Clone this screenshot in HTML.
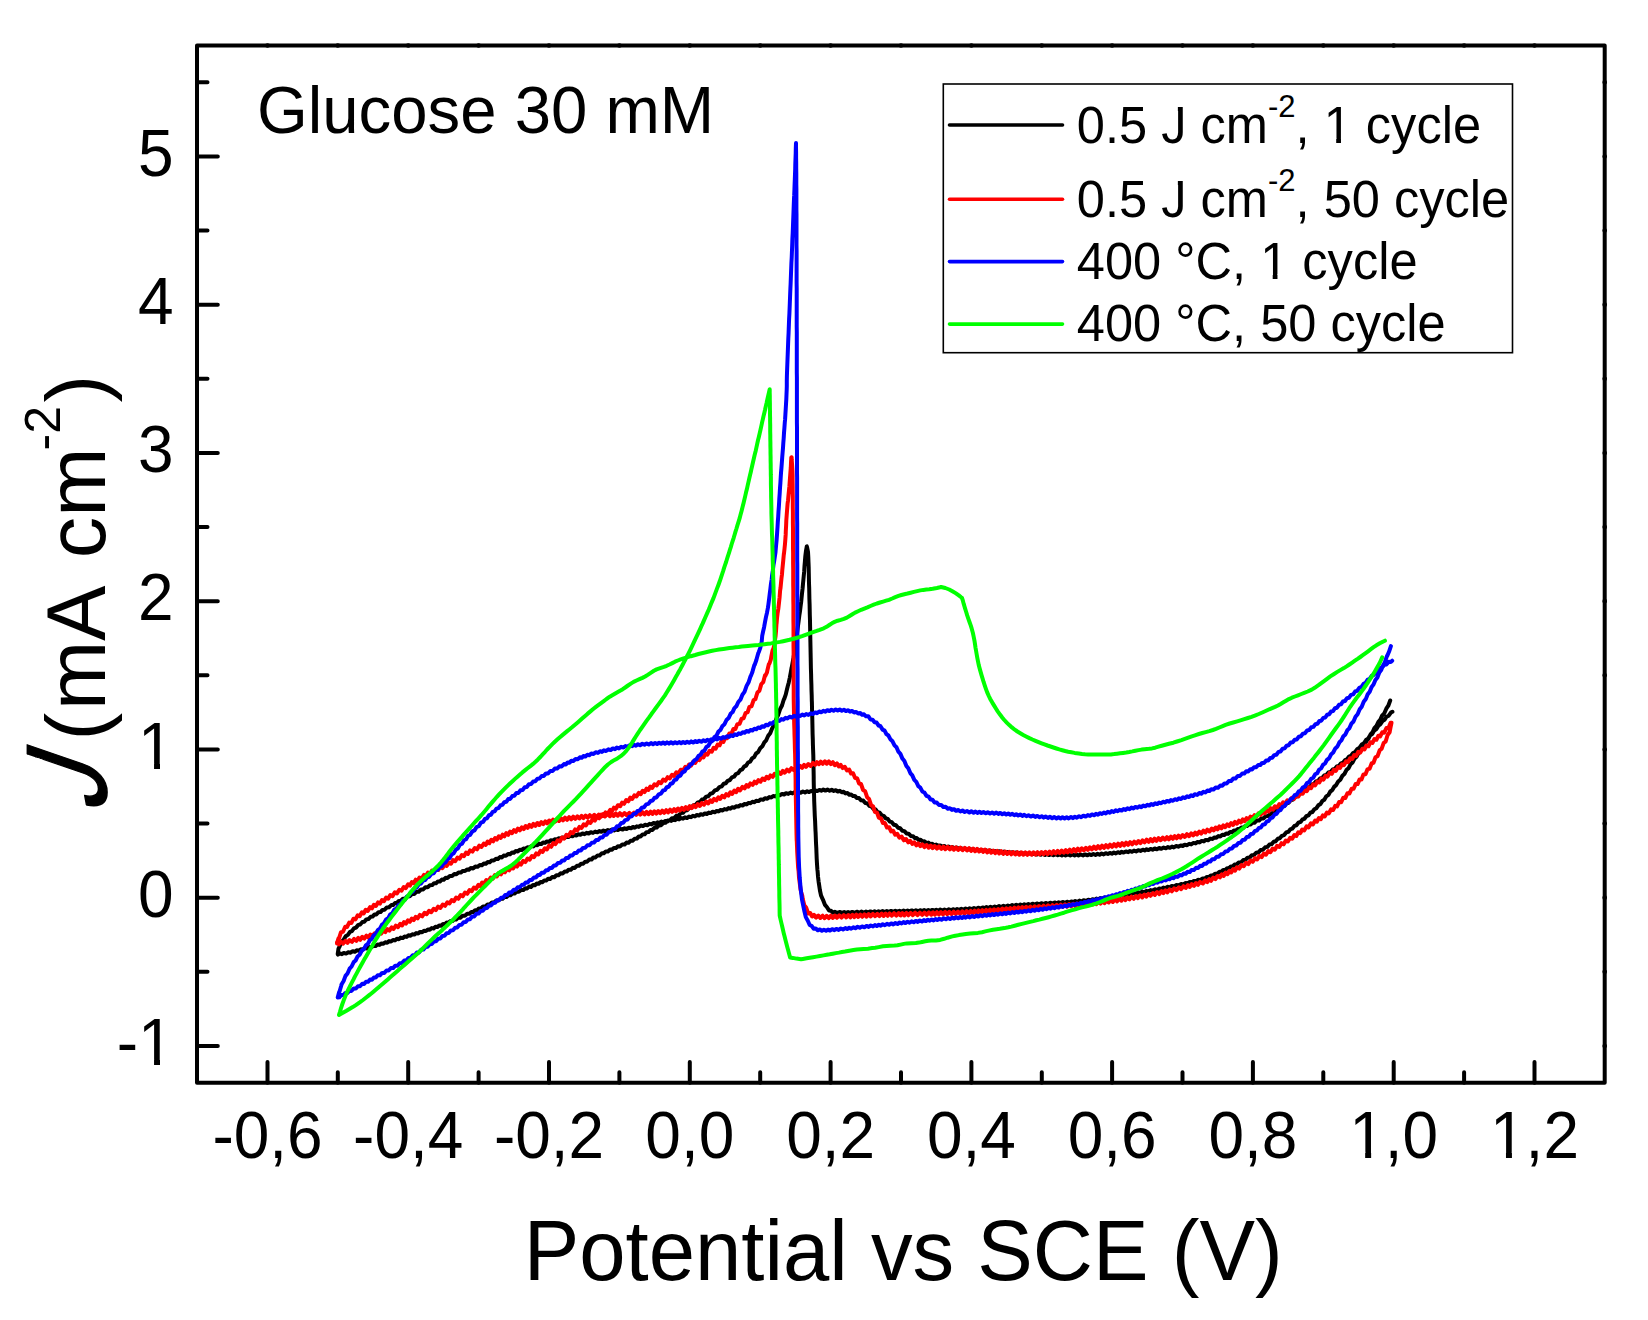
<!DOCTYPE html>
<html lang="en"><head><meta charset="utf-8"><title>Cyclic voltammetry - Glucose 30 mM</title>
<style>html,body{margin:0;padding:0;background:#fff}svg{display:block}</style></head>
<body>
<svg width="1648" height="1320" viewBox="0 0 1648 1320">
<rect width="1648" height="1320" fill="#fff"/>
<g fill="none" stroke-width="4.0" stroke-linecap="round" stroke-linejoin="round">
<path stroke="#000000" d="M1390.2 700.5L1388.3 705.7L1386.3 708.7L1384.3 713.3L1382.1 715.7L1380.2 719.8L1378.4 721.8L1376.5 725.8L1374.4 728.1L1372.4 732.5L1370.5 734.5L1368.4 738.9L1366.5 740.9L1364.5 745.0L1362.6 746.9L1360.6 750.9L1358.6 752.8L1356.5 756.7L1354.5 758.6L1352.5 762.5L1350.5 764.4L1348.5 768.3L1346.4 770.1L1344.4 774.0L1342.4 775.8L1340.3 779.7L1338.2 781.5L1336.0 785.3L1334.2 786.7L1332.3 790.1L1330.3 791.5L1328.4 794.9L1326.3 796.3L1324.3 799.7L1322.4 800.9L1320.5 804.0L1318.3 805.3L1316.4 808.2L1314.4 809.2L1312.4 812.0L1310.4 812.7L1308.5 815.4L1306.3 816.2L1304.4 818.8L1302.5 819.4L1300.7 821.9L1298.4 822.7L1296.4 825.3L1294.4 825.9L1292.2 828.7L1290.2 829.3L1288.4 831.8L1286.2 832.4L1284.1 835.1L1281.9 835.8L1279.8 838.3L1277.8 838.8L1275.7 841.2L1273.7 841.7L1271.6 844.1L1269.5 844.5L1267.4 846.9L1265.2 847.3L1262.9 849.7L1260.7 850.0L1258.5 852.3L1256.3 852.7L1254.1 854.9L1251.9 855.2L1249.7 857.5L1247.5 857.7L1245.4 859.9L1243.2 860.1L1241.0 862.3L1238.7 862.5L1236.4 864.7L1234.5 864.6L1232.7 866.5L1230.8 866.5L1228.9 868.4L1227.1 868.2L1225.1 870.1L1223.2 870.0L1221.3 871.9L1219.5 871.7L1217.2 873.7L1215.0 873.7L1212.8 875.6L1210.8 875.4L1208.9 877.1L1207.0 876.9L1204.8 878.6L1202.7 878.4L1200.0 880.2L1198.0 879.8L1196.0 881.4L1193.9 880.9L1191.7 882.5L1189.8 881.9L1187.8 883.4L1185.7 882.9L1183.5 884.4L1181.2 883.9L1178.9 885.4L1176.5 884.9L1174.1 886.4L1171.8 885.9L1169.6 887.4L1167.4 886.8L1165.4 888.2L1163.4 887.6L1161.5 889.0L1159.3 888.5L1157.2 889.9L1154.8 889.3L1153.0 890.7L1150.6 890.1L1148.4 891.5L1146.4 890.9L1144.5 892.2L1142.2 891.6L1140.0 893.0L1137.9 892.3L1135.9 893.7L1133.7 893.0L1131.4 894.4L1129.5 893.7L1127.5 895.0L1125.4 894.3L1123.3 895.7L1121.3 895.0L1119.2 896.3L1117.1 895.6L1115.0 896.9L1112.9 896.2L1110.8 897.5L1108.7 896.9L1106.7 898.2L1104.7 897.4L1102.7 898.7L1100.5 898.1L1098.4 899.3L1096.4 898.6L1094.5 899.9L1092.5 899.2L1090.3 900.4L1088.3 899.7L1086.1 900.9L1083.6 900.2L1081.6 901.4L1079.4 900.6L1077.2 901.9L1075.2 901.0L1073.3 902.2L1071.3 901.4L1069.2 902.5L1067.1 901.7L1065.0 902.8L1062.7 902.0L1060.7 903.1L1058.7 902.2L1056.7 903.3L1054.6 902.4L1052.4 903.6L1050.2 902.7L1048.0 903.8L1045.7 903.0L1043.5 904.1L1041.3 903.2L1039.1 904.3L1036.9 903.5L1034.7 904.6L1032.5 903.7L1030.4 904.9L1028.4 904.0L1026.3 905.1L1024.3 904.3L1022.4 905.4L1020.4 904.5L1018.4 905.7L1016.3 904.8L1014.3 906.0L1012.2 905.1L1010.0 906.3L1007.9 905.5L1005.7 906.6L1003.5 905.8L1001.3 907.0L999.1 906.1L996.9 907.3L994.8 906.5L992.6 907.6L990.5 906.8L988.5 907.9L986.5 907.1L984.5 908.2L982.6 907.4L980.4 908.6L978.2 907.7L976.1 908.9L974.0 908.0L971.9 909.1L969.6 908.3L967.6 909.4L965.6 908.5L963.7 909.6L961.4 908.8L959.2 909.9L957.1 909.0L955.3 910.1L953.0 909.2L950.9 910.2L948.8 909.3L946.7 910.4L944.5 909.5L942.2 910.6L940.2 909.6L938.2 910.7L936.3 909.7L934.3 910.8L932.4 909.9L930.4 910.9L928.3 910.0L926.3 911.0L924.2 910.1L922.2 911.1L920.1 910.2L918.0 911.2L915.9 910.3L913.8 911.3L911.8 910.4L909.7 911.4L907.6 910.5L905.6 911.5L903.6 910.6L901.5 911.6L899.5 910.7L897.4 911.7L895.3 910.8L893.2 911.8L891.1 910.9L888.9 911.9L886.8 911.0L884.7 912.0L882.6 911.1L880.5 912.1L878.5 911.2L876.5 912.2L874.6 911.3L872.7 912.3L870.4 911.4L868.3 912.4L866.0 911.5L863.8 912.5L861.5 911.6L859.1 912.7L856.8 911.7L854.6 912.8L852.3 911.9L850.2 912.9L848.1 912.0L846.1 913.0L844.2 912.0L842.1 913.1L840.1 912.0L837.3 913.0L834.8 911.8L832.8 912.6L830.9 910.7L829.0 910.4L827.0 907.2L825.0 904.9L823.0 899.8L821.1 895.7L819.9 890.3L819.3 886.1L818.6 881.6L818.0 876.5L817.6 871.1L817.4 869.7L817.0 864.0L816.7 858.6L816.5 853.5L816.3 848.2L816.0 842.8L815.8 837.4L815.6 832.3L815.5 830.8L815.3 826.2L815.1 821.2L814.8 816.1L814.6 811.1L814.4 806.0L814.2 801.0L814.1 795.9L813.9 790.7L813.8 785.3L813.7 779.9L813.7 776.6L813.6 770.9L813.5 765.6L813.4 760.4L813.3 755.1L813.1 749.9L812.9 744.5L812.8 739.4L812.6 734.2L812.5 728.8L812.4 723.6L812.3 718.2L812.1 712.7L812.0 707.4L811.9 702.3L811.8 700.3L811.7 695.4L811.5 690.1L811.4 684.7L811.2 679.2L811.1 674.0L810.9 668.5L810.8 663.2L810.7 657.8L810.6 652.7L810.5 647.5L810.4 642.3L810.3 637.1L810.2 632.0L810.1 626.6L810.0 621.3L810.0 620.7L809.8 614.7L809.7 609.4L809.6 604.3L809.4 598.8L809.3 593.5L809.2 588.3L809.0 583.3L808.9 578.1L808.8 573.0L808.7 567.5L808.5 562.4L808.3 557.1L808.0 551.9L807.1 547.3L806.8 546.4L806.8 546.4L805.9 551.4L805.3 556.5L804.9 561.5L804.5 566.2L804.2 571.2L803.7 576.4L803.2 581.6L803.1 582.6L802.6 588.2L802.0 593.4L801.5 598.6L801.2 601.7L800.6 606.2L800.0 611.2L799.3 615.7L798.6 621.2L797.9 626.6L797.4 630.5L796.8 635.0L796.1 640.3L795.5 644.1L794.8 650.0L793.9 655.4L793.6 657.4L792.7 662.1L791.8 667.1L791.7 667.1L790.7 672.9L789.7 678.1L788.7 682.7L787.8 686.0L786.4 691.7L785.8 694.4L784.2 699.0L783.8 699.5L782.0 705.5L780.1 709.2L778.1 715.2L776.2 719.1L774.3 724.7L772.2 728.2L770.2 733.2L768.2 735.8L766.2 740.3L764.3 742.3L762.3 746.3L760.2 748.2L758.1 752.1L756.1 753.5L754.2 757.0L752.1 758.4L750.1 761.7L748.1 762.5L746.1 765.6L744.1 766.6L742.2 769.4L740.3 770.2L738.2 773.1L736.0 774.0L734.0 776.7L731.9 777.4L729.9 780.0L727.7 780.8L725.8 783.3L723.7 783.8L721.6 786.4L719.4 787.1L717.1 789.8L714.8 790.4L712.6 793.1L710.4 793.7L708.3 796.2L706.2 796.6L704.1 799.1L702.0 799.5L699.9 802.0L697.8 802.4L695.7 804.8L693.6 805.2L691.4 807.5L689.3 807.9L687.2 810.2L685.1 810.5L683.0 812.8L680.9 813.1L678.7 815.4L676.5 815.7L674.3 817.9L672.0 818.2L669.8 820.4L667.6 820.6L665.4 822.8L663.2 823.0L661.1 825.2L658.9 825.4L656.7 827.6L654.5 827.8L652.2 830.0L650.4 830.0L648.5 832.1L646.5 832.2L644.6 834.3L642.6 834.4L640.7 836.4L638.8 836.5L636.9 838.5L634.7 838.7L632.5 840.8L630.5 840.8L628.5 842.8L626.5 842.6L624.6 844.5L622.2 844.5L620.0 846.4L617.9 846.3L616.0 848.0L613.9 847.9L612.1 849.7L610.1 849.5L607.9 851.5L605.8 851.4L603.8 853.3L601.9 853.3L599.6 855.4L597.6 855.4L595.5 857.4L593.4 857.5L591.5 859.5L589.2 859.6L587.1 861.7L585.2 861.7L583.2 863.7L581.1 863.8L579.0 865.8L576.9 865.8L574.8 867.9L572.9 867.8L570.8 869.7L568.6 869.7L566.8 871.6L564.8 871.5L562.8 873.4L560.7 873.3L558.5 875.3L556.4 875.2L554.3 877.2L552.1 877.1L550.1 879.0L548.1 878.8L546.2 880.6L544.3 880.4L542.5 882.2L540.6 882.0L538.7 883.8L536.8 883.5L534.9 885.3L533.0 885.1L531.0 886.9L529.1 886.6L527.2 888.4L525.3 888.2L523.4 889.9L521.2 889.9L518.9 891.8L516.7 891.7L514.6 893.6L512.4 893.5L510.5 895.3L508.4 895.2L506.5 897.0L504.5 896.9L502.6 898.7L500.8 898.6L498.5 900.6L496.3 900.6L494.1 902.5L491.9 902.5L489.8 904.5L487.5 904.5L485.3 906.6L483.0 906.6L480.7 908.7L478.8 908.5L477.0 910.3L475.1 910.2L473.2 912.0L471.4 911.9L469.5 913.7L467.2 913.7L464.9 915.7L462.6 915.7L460.3 917.8L458.0 917.7L456.1 919.5L454.3 919.3L452.4 921.1L450.5 920.9L448.6 922.7L446.7 922.5L444.9 924.2L443.0 924.0L441.1 925.7L439.2 925.4L437.4 927.1L435.5 926.8L433.6 928.5L431.8 928.1L429.8 929.8L427.9 929.4L425.9 931.1L424.0 930.7L422.1 932.3L420.1 931.9L418.2 933.5L416.2 933.1L414.3 934.6L412.4 934.2L410.5 935.8L408.5 935.3L406.6 936.9L404.6 936.5L402.7 938.1L400.7 937.6L398.8 939.2L396.9 938.8L394.9 940.4L393.0 940.0L391.1 941.5L389.1 941.1L387.2 942.7L385.3 942.2L383.4 943.8L381.5 943.4L379.5 944.9L377.6 944.5L375.5 946.1L373.4 945.7L371.3 947.3L369.1 946.9L367.0 948.5L364.9 948.1L362.8 949.6L360.8 949.2L358.9 950.7L356.7 950.3L354.7 951.8L352.8 951.2L350.6 952.7L348.3 952.2L346.1 953.6L343.8 952.9L341.9 954.2L339.8 953.4L338.0 954.6L337.7 954.1L337.7 954.1L338.5 948.6L339.7 946.3L341.6 941.7L343.6 939.8L345.7 936.2L347.9 934.9L350.0 931.9L351.9 931.2L353.9 928.4L356.0 927.6L358.3 924.9L360.2 924.5L362.4 922.0L364.3 921.7L366.3 919.4L368.4 919.1L370.6 916.8L372.5 916.6L374.5 914.5L376.4 914.4L378.5 912.2L380.5 912.1L382.5 909.9L384.6 909.7L386.8 907.5L389.0 907.3L391.3 905.1L393.1 905.1L395.0 903.0L396.9 903.0L398.8 901.0L400.6 901.0L402.9 898.8L405.2 898.6L407.5 896.4L409.7 896.2L412.0 894.1L414.2 893.9L416.5 891.8L418.7 891.7L421.0 889.5L423.2 889.4L425.4 887.3L427.7 887.2L429.9 885.2L432.2 885.1L434.1 883.2L436.0 883.3L437.9 881.4L439.9 881.5L441.8 879.6L443.7 879.7L445.7 877.8L447.5 878.0L449.8 876.0L452.1 876.0L454.3 874.1L456.4 874.3L458.5 872.5L460.7 872.6L462.9 870.9L465.0 871.1L467.0 869.4L468.9 869.8L470.8 868.1L473.1 868.4L475.3 866.6L477.5 866.8L479.8 865.0L481.9 865.3L483.9 863.5L485.9 863.8L487.8 862.0L489.7 862.2L491.6 860.5L493.8 860.6L496.0 858.7L497.9 859.0L499.9 857.1L501.9 857.4L503.7 855.6L506.0 855.7L508.3 853.9L510.1 854.2L512.0 852.5L513.9 852.8L515.8 851.1L517.8 851.4L519.7 849.8L521.6 850.1L523.5 848.5L525.5 848.9L527.5 847.3L529.4 847.6L531.4 846.0L533.4 846.4L535.4 844.8L537.3 845.2L539.2 843.6L541.2 844.1L543.1 842.5L545.0 842.9L546.9 841.4L548.8 841.9L550.7 840.3L552.7 840.8L554.7 839.3L556.6 839.8L558.6 838.3L560.5 838.8L562.5 837.4L564.5 837.9L566.5 836.5L568.4 837.1L570.4 835.7L572.4 836.3L574.4 834.9L576.3 835.5L578.4 834.2L580.4 834.8L582.5 833.5L584.5 834.2L586.6 832.8L588.7 833.5L590.8 832.2L593.0 832.9L595.2 831.6L597.4 832.3L599.5 831.0L601.4 831.8L603.5 830.5L605.6 831.3L607.9 830.0L609.9 830.8L612.0 829.6L614.1 830.4L616.0 829.3L618.0 830.0L620.3 828.8L622.7 829.5L624.6 828.3L626.6 829.0L628.8 827.7L631.0 828.3L632.9 827.0L634.8 827.7L636.8 826.3L638.8 826.9L640.9 825.5L643.0 826.1L645.2 824.7L647.3 825.3L649.5 823.8L651.5 824.4L653.6 823.0L655.5 823.7L657.5 822.3L659.5 823.0L661.4 821.6L663.4 822.3L665.3 820.9L667.3 821.6L669.2 820.2L671.2 820.9L673.2 819.5L675.1 820.2L677.1 818.8L679.1 819.4L681.1 818.1L683.0 818.7L685.0 817.3L687.0 818.0L689.0 816.6L691.0 817.2L692.9 815.8L694.9 816.4L696.9 815.0L698.9 815.6L700.8 814.2L702.8 814.8L704.8 813.4L706.8 814.0L708.8 812.6L710.7 813.1L712.7 811.7L714.7 812.3L716.7 810.9L718.6 811.4L720.6 810.0L722.6 810.5L724.5 809.1L726.5 809.6L728.5 808.1L730.4 808.7L732.4 807.2L734.4 807.7L736.4 806.2L738.4 806.6L740.4 805.1L742.5 805.5L744.6 804.0L746.6 804.4L748.6 802.9L750.5 803.3L752.4 801.8L754.4 802.2L756.2 800.7L758.5 801.1L760.8 799.4L763.0 799.8L765.2 798.2L767.3 798.7L769.3 797.1L771.3 797.5L773.2 796.0L775.5 796.4L777.7 794.9L779.8 795.4L782.0 793.9L784.1 794.5L786.0 793.2L788.3 793.9L790.5 792.6L792.5 793.4L794.5 792.2L796.5 793.0L798.6 791.8L800.7 792.7L802.9 791.5L805.0 792.4L807.1 791.2L809.1 792.1L811.1 790.9L813.3 791.6L815.3 790.4L817.3 791.1L819.3 789.9L821.3 790.7L823.3 789.6L825.4 790.6L827.5 789.6L829.6 790.7L831.7 789.8L833.8 791.0L835.8 790.2L837.8 791.5L839.8 790.8L841.7 792.3L843.6 791.8L845.5 793.4L847.4 793.0L849.3 794.7L851.1 794.4L853.0 796.1L854.9 796.0L856.7 797.9L859.0 798.1L861.1 800.3L863.2 800.6L865.3 803.0L867.4 803.4L869.5 805.9L871.4 806.5L873.5 809.0L875.6 809.5L877.6 812.1L879.7 812.7L881.7 815.3L883.7 815.9L885.8 818.4L887.8 819.0L889.8 821.6L891.8 822.2L893.9 824.8L896.0 825.3L898.1 827.8L900.2 828.2L902.3 830.7L904.4 831.1L906.5 833.4L908.6 833.7L910.8 835.9L913.0 836.2L914.9 838.2L916.8 838.1L918.7 840.0L920.6 839.8L922.5 841.6L924.4 841.3L926.4 843.0L928.4 842.6L930.3 844.2L932.3 843.7L934.2 845.2L936.2 844.6L938.2 846.0L940.2 845.4L942.1 846.7L944.3 846.0L946.3 847.3L948.3 846.5L950.2 847.8L952.2 847.0L954.5 848.3L956.6 847.5L958.9 848.8L960.8 848.0L962.9 849.2L965.1 848.4L967.4 849.6L969.7 848.8L971.6 850.0L973.6 849.2L975.6 850.4L977.7 849.5L979.9 850.7L982.1 849.9L984.1 851.0L986.1 850.2L988.2 851.4L990.3 850.5L992.5 851.7L994.8 850.9L997.1 852.1L999.4 851.2L1001.7 852.4L1004.0 851.6L1006.2 852.7L1008.4 851.9L1010.5 853.0L1012.5 852.2L1014.5 853.3L1016.4 852.4L1018.3 853.6L1020.6 852.7L1022.8 853.8L1024.9 853.0L1027.3 854.1L1029.6 853.2L1032.0 854.3L1034.3 853.5L1036.6 854.6L1038.8 853.7L1040.9 854.8L1043.0 853.8L1045.1 854.9L1047.0 854.0L1048.9 855.1L1051.2 854.1L1053.4 855.2L1055.5 854.3L1057.7 855.3L1059.7 854.4L1061.9 855.4L1063.7 854.5L1065.6 855.5L1068.0 854.5L1070.3 855.5L1072.5 854.5L1074.6 855.5L1076.6 854.5L1078.5 855.5L1080.7 854.5L1083.0 855.4L1085.2 854.4L1087.5 855.3L1089.4 854.2L1091.4 855.1L1093.4 854.0L1095.5 854.9L1097.5 853.8L1099.6 854.7L1101.6 853.5L1103.7 854.4L1105.7 853.2L1107.8 854.0L1109.8 852.9L1111.9 853.7L1113.9 852.5L1115.9 853.4L1117.9 852.2L1119.8 853.0L1121.7 851.8L1123.6 852.6L1125.9 851.4L1128.2 852.2L1130.0 851.0L1132.0 851.8L1134.0 850.6L1136.1 851.4L1138.2 850.2L1140.5 850.9L1142.8 849.7L1144.7 850.5L1146.6 849.3L1148.5 850.1L1150.5 848.9L1152.6 849.7L1154.7 848.5L1156.9 849.3L1159.2 848.0L1161.4 848.8L1163.7 847.6L1165.9 848.3L1168.0 847.1L1170.0 847.8L1172.0 846.6L1173.9 847.4L1176.2 846.0L1178.3 846.7L1180.7 845.4L1182.7 846.0L1184.7 844.7L1187.1 845.2L1189.2 843.8L1191.2 844.4L1193.5 842.9L1195.6 843.4L1197.6 841.9L1199.6 842.4L1201.7 840.9L1203.8 841.4L1205.7 839.9L1208.0 840.3L1210.2 838.6L1212.5 839.0L1214.5 837.4L1216.4 837.8L1218.4 836.1L1220.3 836.5L1222.3 834.8L1224.3 835.1L1226.2 833.4L1228.2 833.7L1230.1 832.0L1232.0 832.3L1233.9 830.6L1235.8 830.8L1237.6 829.1L1239.5 829.3L1241.4 827.5L1243.3 827.7L1245.2 825.9L1247.0 826.1L1248.9 824.3L1250.8 824.4L1252.7 822.6L1254.5 822.7L1256.8 820.6L1259.1 820.5L1261.0 818.6L1263.3 818.4L1265.6 816.3L1267.8 816.1L1270.2 813.8L1272.0 813.7L1273.9 811.6L1276.2 811.3L1278.2 809.0L1280.4 808.6L1282.6 806.1L1284.8 805.6L1286.7 803.2L1288.6 802.8L1290.7 800.3L1292.8 799.7L1295.0 797.0L1297.2 796.4L1299.3 793.9L1301.3 793.3L1303.4 790.7L1305.5 790.2L1307.6 787.6L1309.7 787.0L1311.8 784.5L1313.8 784.0L1315.9 781.4L1318.0 780.9L1320.0 778.4L1322.1 778.0L1324.2 775.5L1326.3 775.0L1328.4 772.5L1330.6 772.0L1332.7 769.5L1334.8 769.0L1336.8 766.4L1338.9 765.9L1341.0 763.3L1343.0 762.7L1345.0 760.1L1346.9 759.4L1348.9 756.7L1350.9 756.0L1353.1 753.0L1355.2 752.0L1357.4 748.9L1359.6 747.7L1361.7 744.5L1363.9 743.3L1366.0 740.0L1368.0 738.7L1370.1 735.4L1372.2 734.0L1374.2 730.6L1376.3 729.1L1378.4 725.6L1380.4 724.3L1382.4 721.1L1384.5 719.8L1386.6 716.7L1388.7 715.7L1390.9 712.6L1392.4 711.8"/>
<path stroke="#ff0000" d="M1391.5 722.8L1390.4 728.2L1389.6 732.3L1387.6 735.0L1385.6 741.6L1383.7 742.9L1381.6 748.9L1379.7 750.2L1377.5 756.2L1375.5 757.3L1373.5 762.8L1371.7 763.3L1369.6 768.7L1367.6 769.1L1365.5 774.3L1363.4 774.6L1361.5 779.4L1359.6 779.4L1357.6 784.1L1355.6 784.1L1353.6 788.8L1351.6 788.7L1349.5 793.4L1347.4 793.3L1345.4 797.9L1343.3 797.7L1341.1 802.3L1339.1 802.0L1337.1 806.4L1335.2 805.8L1333.2 810.0L1331.1 809.3L1328.9 813.4L1326.9 812.5L1324.7 816.5L1322.8 815.4L1320.9 819.1L1318.9 818.0L1317.0 821.7L1315.1 820.5L1312.9 824.4L1310.9 823.4L1308.5 827.4L1306.5 826.4L1304.2 830.4L1302.2 829.5L1300.3 833.2L1298.2 832.3L1296.3 836.0L1294.3 835.0L1292.2 838.8L1290.1 837.8L1287.9 841.5L1285.8 840.5L1283.7 844.3L1281.5 843.2L1279.3 847.0L1277.0 845.9L1274.8 849.7L1272.6 848.6L1270.4 852.2L1268.2 851.1L1266.0 854.7L1263.8 853.6L1261.6 857.1L1259.4 855.9L1257.2 859.5L1255.0 858.2L1252.8 861.8L1250.5 860.5L1248.3 864.1L1246.0 862.8L1243.8 866.3L1241.5 865.1L1239.2 868.6L1236.9 867.3L1235.0 870.7L1233.1 869.2L1231.2 872.5L1229.4 870.9L1227.5 874.2L1225.6 872.6L1223.7 875.9L1221.8 874.3L1219.9 877.4L1217.6 876.0L1215.4 879.2L1213.2 877.7L1211.0 880.8L1209.2 879.1L1207.2 882.1L1205.1 880.4L1202.9 883.5L1200.1 881.9L1198.0 884.9L1196.0 883.0L1194.0 885.9L1191.7 884.1L1189.8 887.0L1187.8 885.1L1185.7 888.0L1183.5 886.2L1181.2 889.1L1178.9 887.3L1176.5 890.2L1174.1 888.4L1171.8 891.3L1169.6 889.4L1167.4 892.3L1165.4 890.4L1163.4 893.2L1161.5 891.2L1159.3 894.1L1157.1 892.1L1154.8 895.0L1153.0 893.0L1150.6 895.8L1148.4 893.9L1146.4 896.6L1144.4 894.6L1142.2 897.4L1140.0 895.3L1137.9 898.1L1135.9 896.0L1133.7 898.8L1131.4 896.7L1129.5 899.4L1127.5 897.3L1125.4 900.1L1123.3 898.0L1121.3 900.7L1119.2 898.6L1117.1 901.3L1115.0 899.2L1112.8 902.0L1110.8 899.9L1108.7 902.5L1106.6 900.4L1104.6 903.1L1102.7 900.9L1100.4 903.6L1098.4 901.5L1096.4 904.1L1094.5 901.9L1092.5 904.5L1090.3 902.4L1088.3 904.9L1086.1 902.8L1083.6 905.4L1081.6 903.1L1079.5 905.7L1077.2 903.5L1075.3 906.1L1073.3 903.8L1071.3 906.4L1069.2 904.1L1067.1 906.6L1065.0 904.4L1062.7 906.9L1060.7 904.7L1058.8 907.2L1056.7 904.9L1054.6 907.4L1052.4 905.2L1050.2 907.7L1048.0 905.4L1045.7 908.0L1043.5 905.7L1041.3 908.3L1039.0 906.0L1036.8 908.5L1034.7 906.3L1032.5 908.8L1030.4 906.6L1028.3 909.1L1026.2 906.8L1024.2 909.4L1022.2 907.1L1020.3 909.7L1018.3 907.4L1016.3 909.9L1014.3 907.7L1012.3 910.2L1010.3 908.0L1008.3 910.6L1006.3 908.3L1004.3 910.9L1002.3 908.6L1000.2 911.2L998.2 909.0L996.2 911.5L994.1 909.3L992.1 911.8L990.1 909.6L988.1 912.1L986.1 909.9L984.2 912.4L982.2 910.2L980.3 912.7L978.3 910.4L976.4 913.0L974.5 910.7L972.6 913.2L970.7 910.9L968.7 913.4L966.6 911.1L964.4 913.6L962.3 911.3L960.1 913.8L958.0 911.5L955.8 914.0L953.6 911.7L951.5 914.1L949.3 911.8L947.2 914.3L945.1 911.9L943.0 914.4L940.9 912.1L938.9 914.5L936.9 912.2L935.0 914.6L933.0 912.3L931.2 914.7L928.9 912.4L926.7 914.8L924.4 912.5L922.2 914.9L919.9 912.6L917.5 915.1L915.1 912.7L912.8 915.2L910.6 912.8L908.4 915.3L906.3 912.9L904.3 915.4L902.3 913.0L900.5 915.5L898.6 913.1L896.3 915.6L894.0 913.2L891.8 915.7L889.5 913.4L887.6 915.8L885.6 913.5L883.6 915.9L881.6 913.6L879.4 916.1L877.3 913.8L875.1 916.2L872.9 913.9L870.7 916.4L868.6 914.1L866.5 916.6L864.4 914.3L862.3 916.8L860.3 914.5L858.2 917.0L856.2 914.6L854.3 917.1L852.4 914.8L850.5 917.3L848.3 915.0L846.2 917.4L843.8 915.1L841.5 917.6L839.2 915.3L837.0 917.8L834.9 915.5L832.8 918.0L830.8 915.7L828.9 918.1L826.7 915.8L824.6 918.2L822.6 915.7L820.3 918.0L818.3 915.5L816.1 917.7L813.9 914.8L812.1 916.5L810.2 913.0L808.2 913.5L806.1 907.5L804.3 905.2L802.7 898.7L802.3 895.9L801.2 892.2L800.5 889.3L799.7 882.8L799.0 877.4L798.6 871.2L798.1 867.2L797.8 862.0L797.5 856.9L797.2 851.8L797.0 846.5L796.8 841.1L796.7 840.4L796.5 833.6L796.4 828.4L796.3 823.1L796.2 817.9L796.1 812.9L796.0 807.6L795.9 802.3L795.8 796.8L795.7 791.3L795.6 785.8L795.6 780.4L795.5 775.1L795.4 770.0L795.3 764.6L795.2 759.4L795.1 753.9L794.9 748.7L794.8 744.0L794.7 739.9L794.5 734.7L794.4 729.6L794.2 724.4L794.1 719.1L794.0 714.1L793.9 708.8L793.8 703.8L793.7 698.4L793.7 693.2L793.7 687.9L793.6 682.4L793.6 677.4L793.6 672.3L793.6 667.1L793.6 662.0L793.6 656.8L793.6 651.5L793.5 646.3L793.5 641.2L793.5 636.1L793.5 631.0L793.5 625.9L793.4 620.8L793.4 615.7L793.4 610.5L793.4 605.3L793.3 600.1L793.3 595.0L793.3 589.8L793.2 584.7L793.2 579.7L793.2 574.3L793.2 568.9L793.1 563.7L793.1 558.7L793.1 553.1L793.0 548.0L793.0 543.0L793.0 537.5L793.0 534.8L793.0 528.3L792.9 523.1L792.9 517.6L792.9 512.4L792.8 507.1L792.8 501.9L792.8 496.2L792.7 491.1L792.7 485.8L792.6 480.5L792.6 475.5L792.4 470.2L792.1 464.8L791.7 459.5L791.6 457.2L791.3 457.3L791.0 462.5L790.8 467.5L790.4 472.7L790.0 478.0L789.6 483.5L789.4 486.2L789.0 490.2L788.5 495.3L788.0 500.7L787.6 503.5L787.1 509.8L786.7 515.2L786.3 520.6L786.1 525.9L785.8 531.1L785.7 534.4L785.4 538.6L785.0 543.8L784.5 548.9L783.9 554.2L783.9 553.4L783.3 560.0L782.8 565.0L782.3 570.0L782.0 574.2L781.5 578.0L781.0 583.0L780.5 588.2L780.1 590.6L779.6 597.2L779.0 602.7L778.3 609.0L777.6 613.3L777.0 618.3L776.6 623.3L776.4 624.8L776.0 631.4L775.5 636.5L774.7 641.9L774.5 644.3L773.5 648.2L772.6 650.2L771.3 656.6L770.8 659.7L769.5 663.4L768.9 664.1L767.4 670.2L767.0 672.3L765.3 675.9L765.1 675.1L763.2 682.2L761.3 684.1L759.4 690.7L757.4 692.5L755.4 699.1L753.5 700.3L751.5 706.3L749.4 706.9L747.6 712.4L745.6 712.9L743.6 718.2L741.6 718.7L739.5 723.9L737.3 724.3L735.4 729.0L733.5 728.9L731.5 733.6L729.3 733.5L727.1 738.2L725.2 737.7L723.4 741.9L721.5 741.2L719.6 745.3L717.6 744.6L715.7 748.6L713.7 747.7L711.8 751.6L709.6 750.8L707.4 754.7L705.6 753.6L703.4 757.5L701.5 756.4L699.5 760.1L697.4 759.1L695.2 763.0L692.8 762.1L690.9 765.7L689.0 764.5L687.1 768.1L685.3 766.9L683.0 770.7L680.7 769.7L678.5 773.4L676.3 772.3L674.1 775.9L672.0 774.8L669.8 778.4L667.6 777.2L665.4 780.8L663.2 779.6L661.0 783.2L658.8 782.0L656.7 785.5L654.4 784.3L652.2 788.0L650.3 786.6L648.4 790.0L646.5 788.7L644.6 792.1L642.6 790.8L640.7 794.2L638.8 792.9L636.5 796.5L634.3 795.4L632.2 799.0L630.2 797.7L628.3 801.3L626.2 800.1L624.1 803.8L622.1 802.6L620.2 806.2L617.9 805.2L615.9 808.8L613.9 807.6L612.0 811.1L610.2 809.8L607.9 813.6L605.6 812.4L603.4 816.0L601.3 814.7L599.2 818.3L597.0 817.0L594.8 820.6L592.6 819.4L590.4 823.0L588.1 821.9L585.9 825.5L583.7 824.4L581.5 828.0L579.4 826.9L577.2 830.6L575.1 829.4L572.9 833.2L570.7 832.1L568.6 835.9L566.4 834.8L564.2 838.6L562.0 837.6L559.8 841.4L557.6 840.4L555.5 844.1L553.3 843.1L551.2 846.8L549.0 845.7L546.9 849.4L544.8 848.3L542.6 851.9L540.5 850.8L538.3 854.5L536.2 853.4L534.1 857.1L531.9 856.0L529.7 859.6L527.5 858.5L525.4 862.1L523.2 860.9L520.9 864.6L519.1 863.2L517.1 866.6L515.0 865.2L513.1 868.5L511.1 867.1L509.1 870.4L506.9 869.1L505.0 872.3L503.0 870.9L500.9 874.4L498.7 873.1L496.8 876.5L494.8 875.1L492.8 878.7L490.7 877.5L488.5 881.1L486.3 880.0L484.0 883.8L482.1 882.5L480.3 886.1L478.4 884.8L476.1 888.6L473.9 887.5L471.7 891.2L469.5 890.1L467.3 893.8L465.0 892.6L462.8 896.3L460.6 895.1L458.4 898.8L456.1 897.6L453.9 901.2L451.7 900.0L449.5 903.5L447.3 902.3L445.0 905.8L442.7 904.5L440.4 908.0L438.1 906.7L435.8 910.1L433.6 908.8L431.3 912.2L429.0 910.8L426.7 914.2L424.5 912.8L422.2 916.3L419.9 914.9L417.6 918.3L415.7 916.8L413.8 920.1L411.8 918.5L409.9 921.8L407.9 920.4L405.9 923.6L404.0 922.1L402.1 925.4L400.2 923.8L398.0 927.2L395.8 925.7L393.6 929.0L391.6 927.4L389.4 930.6L387.3 929.0L385.3 932.1L383.5 930.4L381.2 933.6L379.0 931.9L376.8 935.0L374.6 933.3L372.3 936.3L370.4 934.5L368.4 937.5L366.4 935.7L364.3 938.6L362.2 936.8L360.2 939.8L358.2 937.9L356.3 940.8L354.1 938.9L352.0 941.9L349.5 940.0L347.5 942.8L345.5 940.8L343.2 943.6L341.1 941.6L338.9 944.3L337.0 942.2L337.0 943.4L337.0 943.4L338.5 938.3L339.1 938.2L341.0 932.2L343.0 931.8L345.2 926.8L347.0 927.1L349.2 922.6L351.3 923.1L353.5 918.7L355.5 919.4L357.7 915.3L359.7 916.2L361.9 912.3L363.7 913.5L365.7 909.8L367.8 910.9L370.1 907.1L372.0 908.4L373.9 904.8L375.9 906.0L378.0 902.4L380.0 903.6L382.0 900.0L384.0 901.2L386.1 897.6L388.2 898.7L390.3 895.0L392.5 896.1L394.8 892.4L397.0 893.4L399.3 889.7L401.5 890.7L403.7 887.0L405.9 888.1L408.1 884.3L410.0 885.6L411.8 882.1L413.8 883.3L415.7 879.7L417.6 881.0L419.5 877.5L421.8 878.5L424.0 874.9L426.0 876.1L428.0 872.6L429.9 874.0L432.0 870.6L434.0 872.0L436.3 868.6L438.3 870.0L440.5 866.6L442.4 868.1L444.6 864.7L446.7 866.0L448.9 862.4L451.0 863.7L453.0 860.1L455.2 861.2L457.5 857.5L459.6 858.7L461.8 855.0L464.1 856.1L466.0 852.6L467.9 854.0L470.1 850.4L472.4 851.6L474.7 848.0L477.0 849.3L479.3 845.7L481.5 847.0L483.8 843.5L485.7 844.9L487.6 841.6L489.4 843.1L491.3 839.8L493.2 841.3L495.1 838.0L496.9 839.6L498.8 836.3L500.7 837.9L502.6 834.7L504.4 836.3L506.3 833.1L508.2 834.8L510.1 831.6L512.0 833.2L514.0 830.1L515.9 831.8L517.9 828.6L519.8 830.3L521.8 827.3L523.7 829.1L525.6 826.0L527.6 827.9L529.5 824.9L531.5 826.8L533.4 823.9L535.4 825.9L537.4 823.0L539.3 825.0L541.3 822.1L543.3 824.1L545.3 821.3L547.2 823.3L549.2 820.5L551.2 822.5L553.1 819.7L555.1 821.7L557.1 819.0L559.0 821.0L561.0 818.3L563.0 820.4L565.0 817.7L567.1 819.8L569.1 817.2L571.2 819.3L573.2 816.7L575.3 818.9L577.4 816.3L579.4 818.5L581.5 815.9L583.5 818.1L585.6 815.5L587.7 817.7L589.8 815.2L592.0 817.4L594.3 814.8L596.6 817.1L598.8 814.5L600.9 816.8L603.1 814.2L605.0 816.5L607.0 813.9L609.9 816.2L611.8 813.6L613.7 815.9L615.9 813.4L617.8 815.7L619.9 813.2L622.1 815.5L624.4 813.0L626.8 815.3L629.3 812.8L631.6 815.1L634.0 812.6L636.2 814.9L638.3 812.4L640.3 814.6L642.4 812.1L644.5 814.4L646.5 811.9L648.5 814.2L650.5 811.6L652.5 813.9L654.4 811.3L656.4 813.6L658.3 811.0L660.2 813.2L662.2 810.6L664.2 812.8L666.2 810.2L668.1 812.4L670.1 809.7L672.1 811.8L674.1 809.2L676.0 811.3L678.0 808.5L679.9 810.6L681.9 807.9L683.9 809.9L685.8 807.1L687.8 809.1L689.7 806.2L691.7 808.2L693.7 805.3L695.6 807.2L697.7 804.2L699.8 806.0L701.9 803.0L704.0 804.7L706.2 801.6L708.3 803.4L710.3 800.3L712.2 802.0L714.1 798.9L716.3 800.5L718.3 797.3L720.2 799.0L722.2 795.8L724.4 797.3L726.3 794.1L728.4 795.6L730.3 792.3L732.2 793.9L734.3 790.5L736.3 792.1L738.1 788.8L740.1 790.3L742.4 786.9L744.6 788.4L746.5 785.1L748.4 786.7L750.3 783.4L752.6 784.9L754.5 781.7L756.4 783.3L758.4 780.1L760.5 781.7L762.5 778.5L764.6 780.0L766.6 776.8L768.6 778.5L770.4 775.4L772.7 776.9L774.6 773.8L776.8 775.4L778.8 772.3L780.8 774.0L782.8 770.9L784.7 772.7L787.0 769.6L789.2 771.3L791.4 768.2L793.6 770.0L795.8 767.0L798.0 768.8L800.1 765.9L802.1 767.8L804.1 764.9L806.0 766.9L808.3 764.0L810.6 765.9L813.0 762.9L815.1 764.9L817.0 762.1L818.8 764.2L820.7 761.6L822.8 763.8L824.9 761.3L826.8 763.7L828.9 761.4L830.9 764.2L832.9 762.2L834.8 765.2L836.9 763.4L838.8 766.5L840.7 764.9L842.6 768.1L844.8 766.8L847.0 770.5L849.2 769.5L851.1 773.6L853.1 773.3L855.1 778.0L857.1 778.2L859.1 783.5L861.0 784.0L863.1 790.0L865.1 791.2L867.1 797.2L869.1 799.0L871.1 805.2L873.0 806.2L874.9 811.8L877.0 812.7L878.9 817.9L881.0 818.3L882.9 823.1L884.9 823.0L887.0 827.6L889.2 827.3L891.1 831.4L893.1 830.7L895.1 834.7L897.2 833.8L899.3 837.6L901.6 836.6L903.8 840.3L906.1 839.0L908.3 842.4L910.2 840.8L912.5 844.0L914.3 842.3L916.4 845.3L918.3 843.4L920.3 846.2L922.3 844.3L924.4 847.1L926.6 845.0L928.7 847.7L930.7 845.5L932.6 848.2L934.7 846.0L937.0 848.6L939.0 846.3L941.4 848.9L943.5 846.6L945.4 849.2L947.6 846.9L949.9 849.4L951.8 847.1L953.9 849.7L956.0 847.4L958.2 849.9L960.4 847.6L962.6 850.2L964.8 847.9L967.0 850.5L969.1 848.2L971.1 850.8L973.1 848.6L975.1 851.2L977.1 848.9L979.1 851.5L981.1 849.3L983.1 851.9L985.1 849.7L987.1 852.3L989.2 850.1L991.2 852.7L993.2 850.5L995.2 853.1L997.2 850.9L999.2 853.4L1001.3 851.2L1003.3 853.8L1005.3 851.5L1007.3 854.0L1009.3 851.8L1011.3 854.3L1013.3 852.0L1015.4 854.5L1017.4 852.2L1019.4 854.6L1021.4 852.3L1023.4 854.7L1025.4 852.4L1027.4 854.8L1029.4 852.4L1031.5 854.7L1033.5 852.3L1035.5 854.6L1037.5 852.2L1039.5 854.5L1041.5 852.0L1043.5 854.3L1045.5 851.8L1047.6 854.1L1049.6 851.5L1051.6 853.8L1053.6 851.2L1055.6 853.5L1057.6 850.9L1059.7 853.1L1061.7 850.5L1063.7 852.7L1065.7 850.1L1067.7 852.3L1069.7 849.7L1071.8 851.8L1073.8 849.2L1075.8 851.4L1077.8 848.7L1079.8 850.9L1081.8 848.3L1083.8 850.4L1085.9 847.8L1087.9 849.9L1089.9 847.3L1091.9 849.4L1093.9 846.7L1095.9 848.9L1098.0 846.2L1100.0 848.4L1102.0 845.7L1104.0 847.9L1106.0 845.2L1108.0 847.4L1110.0 844.7L1112.1 846.9L1114.1 844.2L1116.1 846.4L1118.1 843.7L1120.1 845.9L1122.1 843.2L1124.1 845.4L1126.1 842.7L1128.1 844.8L1130.1 842.1L1132.2 844.3L1134.2 841.6L1136.3 843.7L1138.4 841.0L1140.5 843.1L1142.5 840.3L1144.6 842.4L1146.6 839.7L1148.7 841.8L1150.6 839.2L1152.6 841.3L1154.5 838.6L1156.5 840.8L1158.5 838.1L1160.7 840.2L1162.8 837.6L1164.9 839.7L1166.9 837.1L1168.9 839.3L1170.9 836.6L1172.8 838.8L1174.7 836.1L1176.6 838.3L1178.5 835.6L1180.4 837.7L1182.6 835.0L1184.8 837.0L1186.9 834.2L1189.1 836.2L1191.2 833.4L1193.2 835.4L1195.2 832.6L1197.0 834.5L1199.2 831.6L1201.2 833.6L1203.4 830.6L1205.4 832.5L1207.3 829.7L1209.5 831.5L1211.8 828.5L1213.7 830.4L1215.6 827.5L1217.5 829.4L1219.4 826.4L1221.4 828.3L1223.3 825.4L1225.2 827.2L1227.2 824.3L1229.1 826.1L1231.1 823.1L1233.1 824.9L1235.0 821.9L1237.0 823.7L1238.9 820.7L1240.9 822.5L1242.8 819.4L1244.7 821.2L1246.6 818.1L1248.5 819.8L1250.5 816.6L1252.5 818.3L1254.5 815.1L1256.4 816.7L1258.5 813.4L1260.6 814.9L1262.7 811.6L1264.7 813.2L1266.6 810.0L1268.6 811.5L1270.6 808.2L1272.9 809.6L1274.9 806.3L1277.0 807.7L1279.3 804.2L1281.2 805.7L1283.1 802.3L1285.0 803.8L1287.3 800.3L1289.5 801.5L1291.8 797.9L1294.0 799.0L1296.2 795.4L1298.4 796.5L1300.5 792.8L1302.7 793.8L1304.8 790.1L1306.9 791.1L1309.0 787.3L1311.0 788.2L1313.1 784.4L1315.2 785.4L1317.3 781.5L1319.3 782.5L1321.4 778.6L1323.5 779.6L1325.6 775.7L1327.6 776.6L1329.7 772.8L1331.8 773.8L1333.8 769.9L1335.9 770.9L1337.9 767.1L1340.0 768.0L1342.0 764.2L1344.0 765.1L1346.1 761.2L1348.1 762.1L1350.1 758.2L1352.2 759.0L1354.2 755.0L1356.2 755.9L1358.2 751.9L1360.3 752.6L1362.4 748.7L1364.4 749.5L1366.4 745.5L1368.5 746.3L1370.5 742.2L1372.5 743.0L1374.4 739.0L1376.4 739.8L1378.4 735.7L1380.2 736.4L1382.2 732.3L1384.2 732.7L1386.4 728.1L1388.5 728.0L1390.6 722.8L1391.5 722.8"/>
<path stroke="#0000ff" d="M1390.9 646.1L1389.0 651.8L1387.1 656.1L1387.0 655.9L1385.2 661.1L1384.9 662.2L1383.1 665.2L1381.2 670.1L1379.3 672.6L1377.4 677.4L1375.4 679.9L1373.5 684.6L1371.6 686.9L1369.7 691.7L1367.7 694.2L1365.8 699.1L1363.7 701.8L1361.7 706.7L1359.7 709.3L1357.6 714.2L1355.5 716.7L1353.5 721.5L1351.4 723.7L1349.3 728.3L1347.4 730.2L1345.4 734.4L1343.4 736.2L1341.4 740.4L1339.4 742.3L1337.4 746.5L1335.3 748.4L1333.2 752.5L1331.2 754.2L1329.2 758.1L1327.0 759.8L1325.1 763.4L1323.1 764.7L1321.1 768.4L1319.1 769.6L1317.2 773.2L1315.2 774.2L1313.2 777.7L1311.2 778.7L1309.1 782.1L1307.0 783.1L1304.9 786.5L1302.7 787.6L1300.5 790.9L1298.6 791.5L1296.4 794.8L1294.6 795.3L1292.7 798.3L1290.8 798.9L1288.9 802.0L1286.7 802.9L1284.5 806.2L1282.6 806.9L1280.5 810.1L1278.5 810.8L1276.5 813.9L1274.6 814.5L1272.6 817.5L1270.6 818.1L1268.5 821.1L1266.7 821.5L1264.8 824.3L1262.8 824.7L1260.9 827.5L1258.9 827.9L1256.9 830.6L1255.0 830.9L1252.9 833.7L1250.9 834.0L1248.8 836.8L1246.7 837.1L1244.7 839.8L1242.6 840.0L1240.5 842.7L1238.4 843.0L1236.2 845.6L1234.1 845.9L1231.9 848.5L1229.8 848.7L1227.6 851.3L1225.4 851.5L1223.2 854.0L1221.0 854.2L1218.8 856.7L1216.6 856.8L1214.4 859.3L1212.2 859.3L1210.2 861.6L1208.2 861.5L1206.2 863.8L1204.0 863.8L1202.1 866.0L1200.1 865.8L1198.1 868.0L1196.0 867.8L1193.8 870.1L1191.5 870.0L1189.7 872.1L1187.7 871.7L1185.7 873.8L1183.8 873.4L1181.8 875.4L1179.8 874.9L1177.5 876.9L1175.2 876.5L1173.4 878.2L1171.5 877.6L1169.6 879.3L1167.7 878.7L1165.7 880.4L1163.7 879.8L1161.6 881.6L1159.5 880.9L1157.4 882.7L1155.5 882.1L1153.3 884.0L1151.0 883.5L1149.1 885.3L1147.2 884.7L1145.3 886.5L1143.3 885.9L1141.4 887.8L1139.4 887.2L1137.4 889.0L1135.5 888.5L1133.5 890.3L1131.6 889.7L1129.6 891.5L1127.7 890.8L1125.8 892.6L1123.8 892.0L1121.9 893.7L1120.0 893.1L1118.0 894.8L1116.1 894.2L1114.2 895.9L1112.2 895.2L1110.3 896.9L1108.4 896.2L1106.4 897.9L1104.5 897.2L1102.5 898.9L1100.6 898.2L1098.6 899.9L1096.6 899.2L1094.6 900.8L1092.6 900.1L1090.6 901.8L1088.6 901.0L1086.7 902.6L1084.7 901.9L1082.7 903.5L1080.7 902.7L1078.8 904.3L1076.8 903.5L1074.8 905.0L1072.8 904.2L1070.7 905.7L1068.7 904.9L1066.7 906.4L1064.7 905.5L1062.7 907.0L1060.7 906.1L1058.6 907.6L1056.6 906.7L1054.6 908.2L1052.6 907.2L1050.6 908.7L1048.6 907.8L1046.6 909.2L1044.5 908.3L1042.5 909.8L1040.5 908.8L1038.5 910.3L1036.5 909.3L1034.5 910.8L1032.5 909.8L1030.4 911.3L1028.4 910.3L1026.4 911.7L1024.4 910.8L1022.4 912.2L1020.4 911.2L1018.4 912.6L1016.3 911.6L1014.3 913.0L1012.3 912.0L1010.3 913.5L1008.3 912.5L1006.2 913.9L1004.2 912.9L1002.2 914.3L1000.2 913.3L998.1 914.7L996.1 913.7L994.2 915.1L992.2 914.1L990.3 915.4L988.3 914.4L986.4 915.8L984.4 914.8L982.5 916.2L980.5 915.2L978.4 916.6L976.3 915.6L974.2 917.0L972.1 916.0L969.9 917.4L967.6 916.4L965.7 917.7L963.9 916.7L962.0 918.0L960.1 917.0L958.2 918.3L956.2 917.3L954.2 918.6L952.2 917.6L950.1 919.0L948.0 917.9L945.9 919.3L943.7 918.3L941.5 919.7L939.4 918.7L937.3 920.0L935.5 919.0L933.6 920.4L931.7 919.4L929.8 920.7L927.8 919.7L925.9 921.1L923.9 920.1L921.9 921.5L919.8 920.5L917.8 921.9L915.7 920.9L913.7 922.3L911.6 921.3L909.6 922.7L907.6 921.7L905.5 923.1L903.5 922.1L901.6 923.5L899.6 922.5L897.5 924.0L895.4 923.0L893.3 924.4L891.2 923.4L889.1 924.8L887.0 923.8L884.9 925.2L882.8 924.2L880.8 925.7L878.8 924.7L876.8 926.1L874.9 925.1L873.0 926.4L870.8 925.5L868.7 926.9L866.5 925.9L864.4 927.3L862.1 926.4L859.8 927.8L857.6 926.8L855.4 928.2L853.3 927.3L851.2 928.7L849.2 927.7L847.2 929.1L845.3 928.1L843.0 929.5L840.8 928.5L838.7 929.9L836.3 928.9L834.4 930.2L832.1 929.2L830.0 930.6L828.0 929.6L826.1 930.8L823.9 929.7L821.9 930.8L819.9 929.4L817.7 930.3L815.8 928.6L813.6 928.7L811.8 926.1L809.7 925.0L807.8 920.7L805.8 917.1L804.4 911.3L803.9 908.8L802.9 904.2L802.0 899.6L801.3 894.0L800.7 888.8L800.2 883.8L800.1 882.2L799.7 877.5L799.4 872.0L799.1 867.0L798.9 861.9L798.7 856.8L798.6 851.4L798.5 846.3L798.4 841.1L798.3 835.7L798.3 832.3L798.2 826.6L798.2 821.2L798.2 815.9L798.1 810.9L798.1 805.7L798.1 800.2L798.0 795.1L798.0 789.8L798.0 784.3L798.0 779.2L798.0 774.0L797.9 768.6L797.9 763.1L797.9 757.9L797.9 752.8L797.8 747.6L797.8 742.4L797.8 737.0L797.8 731.9L797.8 726.8L797.7 721.6L797.7 716.2L797.7 710.8L797.7 705.8L797.7 700.7L797.6 695.6L797.6 690.3L797.6 685.0L797.6 679.6L797.6 674.0L797.6 669.0L797.5 663.9L797.5 658.8L797.5 653.5L797.5 648.3L797.5 643.0L797.5 637.5L797.4 632.5L797.4 627.3L797.4 622.1L797.4 616.8L797.4 611.4L797.4 606.0L797.4 600.5L797.3 595.4L797.3 590.3L797.3 585.2L797.3 580.1L797.3 574.9L797.3 569.7L797.3 564.5L797.2 559.3L797.2 554.1L797.2 548.9L797.2 543.7L797.2 538.4L797.2 533.2L797.2 528.0L797.2 522.9L797.1 517.7L797.1 512.6L797.1 507.5L797.1 502.5L797.1 497.5L797.1 492.5L797.1 487.5L797.1 482.5L797.1 477.5L797.0 472.5L797.0 467.5L797.0 462.5L797.0 457.5L797.0 452.5L797.0 447.5L797.0 442.5L797.0 437.5L797.0 432.5L797.0 427.5L796.9 422.5L796.9 417.5L796.9 412.5L796.9 407.5L796.9 402.5L796.9 397.5L796.9 392.5L796.9 387.5L796.9 382.5L796.9 377.5L796.8 372.5L796.8 367.5L796.8 362.5L796.8 357.5L796.8 352.5L796.8 347.5L796.8 342.4L796.8 337.2L796.8 331.9L796.7 326.6L796.7 321.2L796.7 315.8L796.7 310.3L796.7 304.8L796.7 299.3L796.7 293.8L796.7 288.3L796.6 282.8L796.6 277.3L796.6 271.9L796.6 266.5L796.6 261.2L796.6 255.9L796.6 250.7L796.5 245.6L796.5 240.1L796.5 234.8L796.5 229.6L796.5 224.5L796.5 219.2L796.5 214.1L796.4 209.4L796.4 205.0L796.4 200.0L796.4 194.7L796.4 189.0L796.3 183.7L796.3 178.2L796.3 173.2L796.2 168.1L796.2 163.1L796.1 157.8L796.1 152.6L796.0 147.5L796.0 143.0L796.0 143.0L795.8 148.0L795.7 153.3L795.5 158.5L795.3 163.8L795.2 169.0L795.0 174.3L794.8 179.5L794.6 184.6L794.4 190.2L794.2 195.4L794.1 196.9L793.9 201.4L793.7 206.6L793.5 212.0L793.3 217.4L793.1 222.6L792.9 228.0L792.7 233.2L792.4 238.6L792.3 241.8L792.1 247.4L791.9 252.5L791.7 257.7L791.4 263.0L791.2 268.3L791.0 273.6L790.8 278.9L790.6 284.3L790.4 288.4L790.2 293.1L790.0 298.3L789.8 303.5L789.6 308.6L789.4 313.6L789.1 319.1L788.9 324.4L788.7 329.5L788.6 332.8L788.3 338.6L788.1 344.0L787.9 349.3L787.7 354.5L787.5 359.7L787.3 364.9L787.1 370.2L786.9 375.9L786.8 381.1L786.8 386.2L786.7 389.8L786.5 394.3L786.3 399.3L786.0 404.3L785.7 409.4L785.4 414.4L785.1 419.4L784.8 422.4L784.4 428.0L784.0 433.0L783.7 438.1L783.3 443.2L783.0 447.9L782.6 452.6L782.2 457.7L781.8 463.1L781.4 468.5L781.1 471.7L780.7 477.7L780.4 482.9L780.0 488.2L779.7 493.4L779.3 498.8L779.2 501.0L778.9 506.1L778.5 511.4L778.2 516.8L777.8 522.0L777.5 527.5L777.4 528.6L777.0 534.7L776.6 540.0L776.1 545.4L775.6 550.7L775.5 552.3L774.8 556.9L774.0 562.2L773.5 564.9L772.8 570.7L772.0 576.1L771.7 579.2L771.0 583.6L770.4 588.8L769.8 593.3L769.1 599.0L768.4 604.4L767.9 607.9L767.0 612.7L766.0 616.9L764.9 622.7L764.1 627.2L763.1 631.5L762.2 635.8L761.7 641.6L760.3 647.9L758.7 652.3L758.3 653.0L756.7 658.7L756.3 660.3L754.6 665.0L754.4 664.9L752.8 670.4L752.4 672.1L750.7 676.3L750.5 676.3L748.6 682.3L746.6 685.9L744.5 691.9L742.4 694.7L740.4 699.7L738.3 702.0L736.3 706.3L734.4 708.1L732.6 712.1L730.6 713.8L728.6 718.1L726.5 720.0L724.5 724.2L722.5 725.9L720.5 729.9L718.5 731.5L716.5 735.6L714.4 737.1L712.4 740.9L710.3 742.3L708.4 745.8L706.4 747.0L704.5 750.4L702.4 751.5L700.6 754.8L698.6 755.7L696.4 759.2L694.2 760.4L692.3 763.6L690.4 764.4L688.4 767.6L686.5 768.3L684.6 771.4L682.4 772.4L680.3 775.7L678.1 776.6L676.2 779.6L674.3 780.2L672.5 783.2L670.6 783.7L668.7 786.7L666.8 787.2L664.9 790.1L663.1 790.5L660.9 793.6L658.7 794.3L656.5 797.4L654.6 797.7L652.7 800.5L650.6 801.0L648.4 803.9L646.2 804.4L644.0 807.3L641.8 807.8L639.6 810.6L637.5 811.0L635.5 813.6L633.6 813.9L631.7 816.4L629.6 816.8L627.5 819.6L625.3 820.1L623.2 822.8L621.3 823.0L619.1 825.9L617.1 826.2L615.2 828.8L613.0 829.2L610.9 831.8L608.9 832.0L606.6 834.8L604.4 834.9L602.4 837.5L600.3 837.5L598.2 840.0L596.1 840.1L593.9 842.6L591.8 842.7L589.6 845.2L587.4 845.3L585.2 847.8L583.0 847.9L580.9 850.4L578.7 850.5L576.6 853.0L574.5 853.1L572.3 855.5L570.2 855.6L568.2 858.0L566.1 858.1L564.2 860.4L562.3 860.4L560.3 862.8L557.9 863.0L555.8 865.5L553.9 865.5L551.9 867.9L549.8 867.9L547.9 870.3L546.0 870.2L543.9 872.7L541.7 872.8L539.9 875.1L537.9 875.1L535.9 877.5L533.9 877.5L531.8 879.9L529.8 880.0L527.7 882.4L525.7 882.4L523.8 884.8L522.0 884.7L519.8 887.2L517.7 887.3L515.7 889.7L513.7 889.7L511.4 892.4L509.2 892.5L507.2 895.0L505.2 895.1L503.3 897.5L501.1 897.7L499.0 900.2L497.1 900.3L495.2 902.7L493.1 902.9L490.9 905.6L489.0 905.6L487.0 908.1L485.0 908.2L482.8 910.8L480.7 911.0L478.5 913.6L476.4 913.8L474.2 916.4L472.1 916.6L470.0 919.2L467.8 919.4L465.7 922.0L463.6 922.2L461.5 924.8L459.3 924.9L457.2 927.5L455.1 927.7L453.0 930.3L450.9 930.4L448.7 933.0L446.6 933.2L444.5 935.8L442.4 935.9L440.3 938.5L438.2 938.7L436.1 941.3L434.0 941.4L431.8 944.0L429.7 944.2L427.6 946.8L425.5 947.0L423.3 949.6L421.2 949.8L419.0 952.4L416.9 952.6L414.8 955.2L412.7 955.3L410.5 957.9L408.4 958.0L406.3 960.5L404.2 960.6L401.9 963.1L399.7 963.2L397.5 965.7L395.3 965.7L393.1 968.1L390.9 968.1L388.7 970.5L386.5 970.5L384.3 972.9L382.1 972.9L379.9 975.3L377.7 975.3L375.8 977.5L373.9 977.4L372.0 979.7L370.0 979.6L368.0 981.8L366.0 981.7L364.1 984.0L362.2 983.8L360.0 986.3L357.9 986.2L355.9 988.5L353.8 988.5L351.4 990.9L349.4 990.8L347.3 993.1L345.4 992.9L343.5 995.1L341.4 995.0L339.3 997.3L337.7 997.5L337.7 997.5L339.1 992.2L339.6 991.3L341.3 985.5L341.5 984.5L343.6 981.0L345.5 975.9L347.5 973.5L349.6 968.7L351.6 966.5L353.7 962.1L355.6 960.5L357.6 956.4L359.6 954.7L361.7 950.8L363.8 949.1L365.8 945.4L367.8 944.0L369.8 940.2L371.8 938.9L373.7 935.3L375.8 933.8L377.8 930.1L379.9 928.6L382.0 924.7L384.0 923.3L386.1 919.4L388.2 918.1L390.2 914.4L392.3 913.2L394.4 909.6L396.6 908.5L398.6 905.1L400.7 904.2L402.8 900.8L404.9 899.8L406.9 896.5L408.7 895.7L410.6 892.5L412.6 891.7L414.8 888.2L416.8 887.4L418.9 884.2L420.9 883.6L423.1 880.6L425.1 880.1L427.1 877.3L429.3 876.7L431.4 873.8L433.6 873.3L435.6 870.4L437.6 869.9L439.5 867.1L441.5 866.4L443.5 863.3L445.5 862.5L447.7 858.9L449.7 857.9L451.6 854.5L453.7 853.2L455.9 849.5L457.8 848.4L459.9 844.8L462.0 843.7L464.0 840.2L466.1 839.2L468.1 835.8L470.1 834.9L472.3 831.4L474.5 830.4L476.6 827.0L478.8 826.1L480.9 822.7L483.1 821.9L485.0 818.9L486.9 818.3L488.9 815.3L490.8 814.8L492.7 811.9L494.6 811.4L496.5 808.6L498.5 808.1L500.5 805.3L502.4 804.9L504.3 802.2L506.3 801.8L508.2 799.1L510.2 798.9L512.3 796.1L514.3 795.8L516.4 793.1L518.5 792.9L520.5 790.2L522.6 789.9L524.7 787.3L526.8 787.0L528.9 784.3L531.1 784.1L533.2 781.5L535.3 781.3L537.4 778.7L539.5 778.5L541.7 776.0L543.8 775.9L546.0 773.4L548.1 773.4L550.3 771.0L552.6 771.0L554.8 768.6L557.1 768.6L559.4 766.3L561.7 766.4L564.0 764.1L565.9 764.4L567.7 762.4L569.6 762.7L571.4 760.7L573.3 761.1L575.6 759.0L577.9 759.2L579.8 757.3L581.7 757.8L583.5 756.0L585.4 756.5L587.4 754.7L589.3 755.3L591.3 753.5L593.5 754.0L595.7 752.2L597.9 752.9L600.0 751.2L601.9 751.9L603.9 750.3L606.1 751.0L608.4 749.3L610.6 750.1L612.8 748.4L614.9 749.2L616.8 747.6L618.9 748.4L621.1 746.8L623.5 747.5L625.4 746.0L627.5 746.8L629.8 745.3L632.1 746.2L634.0 744.7L636.0 745.7L638.0 744.2L640.1 745.2L642.3 743.8L644.5 744.8L646.7 743.4L648.8 744.5L651.0 743.1L653.0 744.2L655.1 742.9L657.1 744.0L659.1 742.7L661.1 743.8L663.1 742.5L665.0 743.7L667.0 742.4L669.0 743.6L671.0 742.3L673.0 743.5L675.1 742.2L677.1 743.3L679.1 742.1L681.1 743.2L683.1 741.9L685.1 743.0L687.1 741.7L689.2 742.8L691.2 741.4L693.2 742.5L695.2 741.1L697.2 742.1L699.2 740.8L701.3 741.8L703.3 740.3L705.3 741.3L707.3 739.8L709.3 740.7L711.2 739.2L713.2 740.1L715.2 738.6L717.1 739.4L719.1 737.9L721.1 738.7L723.1 737.1L725.0 737.8L727.0 736.2L729.0 736.9L731.0 735.3L733.0 736.0L734.9 734.3L736.9 735.0L738.8 733.3L740.7 733.9L742.7 732.2L744.6 732.8L746.5 731.0L748.5 731.7L750.5 729.9L752.4 730.5L754.4 728.7L756.3 729.3L758.3 727.4L760.2 728.0L762.1 726.2L764.0 726.7L766.0 724.8L767.9 725.3L769.9 723.3L771.8 723.8L773.8 721.9L775.7 722.3L777.6 720.4L779.5 720.9L781.4 719.1L783.3 719.7L785.6 717.8L787.4 718.5L789.6 716.7L791.8 717.5L794.0 715.8L796.1 716.7L798.2 715.1L800.3 716.0L802.3 714.5L804.3 715.5L806.2 714.0L808.4 714.9L810.7 713.3L813.1 714.0L815.2 712.4L817.0 713.2L819.2 711.5L821.4 712.3L823.3 710.8L825.4 711.7L827.4 710.2L829.5 711.1L831.5 709.7L833.6 710.7L835.7 709.4L837.7 710.6L839.8 709.4L841.8 710.7L843.9 709.7L845.9 711.1L847.9 710.2L850.0 711.7L852.0 710.9L854.1 712.5L856.2 711.9L858.2 713.6L860.2 713.0L862.1 714.8L864.0 714.3L866.0 716.3L868.3 716.2L870.5 719.5L872.6 719.7L874.6 722.3L876.6 722.6L878.6 725.5L880.5 726.2L882.6 729.6L884.6 730.6L886.5 734.2L888.4 735.5L890.6 739.6L892.5 741.3L894.5 745.4L896.5 747.3L898.4 751.7L900.4 753.9L902.4 758.6L904.4 761.1L906.4 765.9L908.3 768.3L910.3 773.1L912.3 775.4L914.3 779.9L916.3 781.9L918.3 786.1L920.3 787.6L922.3 791.4L924.4 792.5L926.5 795.9L928.6 796.7L930.6 799.5L932.5 799.8L934.6 802.4L936.8 802.6L939.0 805.0L941.2 804.9L943.4 807.1L945.6 806.8L947.8 808.8L949.9 808.2L952.0 809.9L954.0 809.2L956.1 810.8L958.4 810.0L960.4 811.5L962.5 810.5L964.7 812.0L967.0 811.0L969.4 812.4L971.3 811.3L973.6 812.7L975.5 811.6L977.4 812.9L979.4 811.8L981.4 813.1L983.5 812.0L985.7 813.3L987.8 812.2L990.0 813.5L992.1 812.4L994.2 813.7L996.3 812.6L998.3 813.9L1000.3 812.9L1002.3 814.2L1004.3 813.2L1006.3 814.5L1008.3 813.5L1010.3 814.8L1012.3 813.8L1014.3 815.2L1016.2 814.2L1018.2 815.5L1020.2 814.5L1022.3 815.9L1024.3 814.8L1026.4 816.2L1028.5 815.2L1030.8 816.6L1033.0 815.5L1035.2 816.9L1037.4 815.9L1039.6 817.2L1041.7 816.2L1043.7 817.6L1045.6 816.5L1047.9 817.9L1049.9 816.8L1052.2 818.2L1054.2 817.1L1056.5 818.4L1058.5 817.3L1060.6 818.5L1062.5 817.3L1064.6 818.5L1066.7 817.3L1068.7 818.4L1071.0 817.0L1072.9 818.1L1074.9 816.7L1076.9 817.7L1079.1 816.2L1081.2 817.2L1083.4 815.7L1085.6 816.6L1087.8 815.1L1090.0 815.9L1092.0 814.4L1094.0 815.3L1096.0 813.8L1098.0 814.7L1100.0 813.2L1101.9 814.0L1103.9 812.5L1105.8 813.4L1107.8 811.8L1109.8 812.7L1111.7 811.1L1113.7 812.0L1115.7 810.4L1117.6 811.3L1119.6 809.7L1121.6 810.6L1123.6 809.0L1125.5 809.9L1127.5 808.3L1129.5 809.2L1131.5 807.6L1133.4 808.5L1135.4 806.9L1137.4 807.8L1139.4 806.2L1141.3 807.1L1143.3 805.5L1145.3 806.3L1147.3 804.8L1149.3 805.6L1151.2 804.0L1153.2 804.9L1155.2 803.3L1157.2 804.1L1159.1 802.5L1161.1 803.3L1163.1 801.7L1165.0 802.5L1167.0 800.9L1169.0 801.7L1170.9 800.1L1172.9 800.8L1174.9 799.2L1176.9 800.0L1178.9 798.3L1181.0 799.0L1183.0 797.3L1185.1 798.0L1187.1 796.3L1189.1 797.0L1191.1 795.3L1193.0 796.0L1194.8 794.3L1197.1 794.9L1199.3 793.0L1201.3 793.7L1203.4 791.8L1205.5 792.4L1207.5 790.5L1209.4 791.1L1211.3 789.2L1213.5 789.6L1215.7 787.5L1218.0 787.8L1220.2 785.6L1222.4 785.7L1224.5 783.4L1226.7 783.5L1228.8 781.1L1231.0 781.1L1233.2 778.6L1235.4 778.6L1237.7 776.0L1239.9 776.0L1242.2 773.5L1244.2 773.6L1246.2 771.3L1248.2 771.5L1250.2 769.2L1252.1 769.4L1254.0 767.2L1256.2 767.2L1258.2 765.0L1260.2 765.1L1262.1 762.9L1264.0 763.0L1266.1 760.6L1268.2 760.5L1270.2 758.0L1272.2 757.8L1274.3 755.1L1276.4 754.7L1278.5 751.9L1280.5 751.5L1282.6 748.8L1284.6 748.4L1286.6 745.7L1288.6 745.3L1290.7 742.6L1292.7 742.3L1294.7 739.7L1296.7 739.4L1298.8 736.7L1300.9 736.3L1303.0 733.6L1305.1 733.2L1307.1 730.4L1309.2 730.1L1311.3 727.3L1313.3 726.9L1315.4 724.2L1317.4 723.8L1319.4 721.0L1321.3 720.7L1323.3 717.9L1325.3 717.5L1327.2 714.7L1329.1 714.3L1331.1 711.5L1333.0 711.1L1335.0 708.2L1337.0 707.7L1339.0 704.8L1341.0 704.4L1342.9 701.5L1345.0 701.0L1347.0 698.2L1348.9 697.8L1351.0 694.9L1353.2 694.4L1355.1 691.5L1357.2 690.9L1359.3 687.8L1361.5 686.9L1363.6 683.8L1365.6 682.9L1367.7 679.7L1369.5 679.1L1371.7 675.8L1373.8 674.9L1375.9 671.6L1377.9 671.0L1380.1 667.9L1382.2 667.4L1384.3 664.7L1386.4 664.4L1388.7 661.8L1390.8 661.9L1392.2 660.7"/>
<path stroke="#00ff00" d="M1382.2 657.4L1380.8 660.5L1379.4 663.5L1377.1 667.6L1375.3 670.7L1373.2 674.2L1371.5 676.9L1369.5 679.9L1367.6 682.9L1365.8 685.5L1363.5 688.9L1361.3 691.8L1359.1 694.8L1356.5 698.0L1353.9 701.6L1352.1 704.1L1350.2 706.8L1348.5 709.5L1346.9 712.0L1345.2 714.7L1343.5 717.4L1341.8 720.0L1340.0 722.6L1338.2 725.1L1336.4 727.5L1334.6 730.0L1332.8 732.5L1331.0 735.0L1329.2 737.6L1327.4 740.1L1325.6 742.6L1323.8 745.1L1321.9 747.6L1320.1 750.0L1318.0 752.7L1315.9 755.3L1313.9 757.9L1311.8 760.5L1309.7 763.1L1307.6 765.7L1305.5 768.3L1303.4 770.9L1301.3 773.6L1299.2 776.1L1296.9 778.6L1294.5 781.1L1292.1 783.5L1289.7 785.9L1287.4 788.2L1285.0 790.5L1282.7 792.8L1280.4 795.0L1278.0 797.0L1275.7 799.1L1273.3 801.3L1270.6 803.5L1268.3 805.5L1265.5 807.9L1262.7 810.2L1260.2 812.4L1257.1 815.2L1254.6 817.6L1251.8 820.2L1249.0 822.8L1246.4 825.3L1244.0 827.4L1240.9 830.0L1237.8 832.6L1235.1 834.6L1231.8 837.0L1228.7 839.1L1226.2 840.9L1223.3 842.8L1220.5 844.7L1217.7 846.6L1214.9 848.4L1212.2 850.0L1208.6 852.3L1204.7 854.6L1201.6 856.5L1198.8 858.2L1195.2 860.6L1192.6 862.3L1189.8 864.1L1186.9 866.0L1184.1 867.7L1181.4 869.3L1178.6 870.8L1175.5 872.4L1172.2 874.0L1168.9 875.5L1165.9 876.8L1161.9 878.5L1157.4 880.2L1154.2 881.5L1150.3 883.1L1146.3 885.1L1143.4 886.5L1140.6 887.8L1137.7 888.9L1134.7 889.9L1131.8 890.8L1129.0 891.8L1124.9 893.4L1122.1 894.5L1117.9 895.9L1113.6 897.0L1110.4 897.9L1106.4 899.3L1103.5 900.6L1100.1 902.0L1096.5 903.4L1092.7 904.6L1088.6 905.8L1085.5 906.6L1082.0 907.4L1078.4 908.4L1075.3 909.3L1071.3 910.4L1067.0 911.7L1064.0 912.7L1060.8 913.6L1057.7 914.6L1054.6 915.5L1051.5 916.4L1048.6 917.2L1045.6 918.0L1042.5 918.8L1039.4 919.6L1036.3 920.3L1033.3 921.1L1029.0 922.1L1025.0 923.1L1021.9 923.9L1018.3 924.8L1014.7 925.7L1011.4 926.6L1008.4 927.3L1004.4 928.1L999.8 928.8L996.6 929.2L993.0 929.7L988.6 930.6L985.3 931.4L982.0 932.2L977.9 932.9L973.9 933.3L970.2 933.6L965.9 934.1L962.6 934.6L958.9 935.1L955.4 935.7L952.3 936.4L947.6 937.7L944.1 938.8L940.1 939.9L935.9 940.4L931.4 940.5L928.4 940.7L925.3 941.3L922.0 942.0L918.9 942.6L915.9 943.0L911.4 943.2L906.9 943.4L903.8 943.9L900.6 944.6L897.5 945.3L894.5 945.6L890.0 945.8L886.7 945.9L883.0 946.3L878.7 947.1L875.2 947.7L872.1 948.1L868.0 948.7L863.5 949.0L860.3 949.3L856.9 949.6L853.4 950.1L849.3 950.7L845.0 951.5L841.9 952.0L838.9 952.6L835.8 953.1L832.7 953.7L829.7 954.3L826.7 954.8L823.5 955.4L820.0 956.0L816.5 956.6L813.0 957.2L809.7 957.8L806.6 958.3L802.8 959.0L801.0 959.3L801.0 959.3L796.5 958.6L792.7 957.9L790.1 957.5L790.1 957.5L789.3 954.4L788.1 950.0L787.2 946.7L786.3 943.2L785.4 939.8L784.6 936.6L783.8 933.4L783.0 930.0L782.2 926.5L781.4 923.1L780.7 920.1L779.9 916.5L779.7 915.6L779.7 915.6L779.6 911.7L779.6 907.9L779.5 903.3L779.4 899.8L779.3 896.0L779.3 891.8L779.2 887.4L779.1 883.8L779.1 880.0L779.0 876.0L778.9 871.8L778.9 867.4L778.8 864.4L778.8 861.3L778.7 858.2L778.7 855.0L778.6 851.7L778.6 848.3L778.5 845.0L778.4 841.5L778.4 838.1L778.3 834.6L778.3 831.5L778.2 827.3L778.1 823.0L778.0 818.6L778.0 815.6L777.9 812.5L777.9 809.4L777.8 806.3L777.8 803.1L777.7 799.9L777.6 796.7L777.6 793.5L777.5 790.3L777.5 787.2L777.4 784.0L777.4 780.8L777.3 777.7L777.2 774.6L777.2 771.6L777.1 767.1L777.0 762.8L777.0 758.3L776.9 755.1L776.9 751.8L776.8 748.6L776.8 745.4L776.8 742.3L776.7 739.2L776.7 736.1L776.6 733.1L776.6 730.1L776.6 725.6L776.5 721.2L776.5 716.9L776.4 712.6L776.3 708.3L776.3 704.1L776.2 700.0L776.1 696.7L776.1 693.5L776.0 690.3L775.9 687.2L775.9 684.1L775.8 681.1L775.7 676.6L775.6 672.2L775.5 667.8L775.3 663.4L775.2 659.0L775.1 654.5L775.0 650.0L774.9 647.0L774.9 643.9L774.8 640.9L774.7 637.9L774.6 634.8L774.6 631.8L774.5 628.8L774.4 625.8L774.4 622.7L774.3 619.7L774.2 616.7L774.1 613.6L774.1 610.6L774.0 607.6L773.9 604.5L773.8 601.5L773.8 598.5L773.7 595.5L773.6 592.4L773.5 589.4L773.5 586.4L773.4 583.3L773.3 580.3L773.2 577.3L773.1 574.2L773.1 571.2L773.0 568.2L772.9 565.2L772.8 562.1L772.7 559.1L772.7 556.1L772.6 553.0L772.5 550.0L772.4 545.7L772.3 541.7L772.2 538.0L772.0 534.4L771.9 530.7L771.8 526.8L771.7 522.7L771.6 519.6L771.5 516.4L771.4 512.8L771.4 508.9L771.3 504.7L771.2 500.0L771.1 496.5L771.1 492.7L771.0 488.5L770.9 484.0L770.9 480.9L770.9 477.7L770.8 474.4L770.8 471.0L770.7 467.6L770.7 464.1L770.6 460.5L770.6 456.9L770.5 453.3L770.5 449.7L770.4 446.0L770.4 442.4L770.3 438.8L770.3 435.2L770.2 431.6L770.2 428.1L770.2 424.7L770.1 421.3L770.1 418.0L770.0 414.8L770.0 411.7L769.9 407.2L769.9 403.1L769.8 399.2L769.8 395.7L769.7 392.6L769.7 389.2L769.7 389.2L768.9 392.6L768.2 395.6L767.4 399.1L766.6 402.9L765.6 407.1L765.0 410.0L764.3 413.0L763.5 416.2L762.8 419.4L762.0 422.8L761.3 426.2L760.5 429.7L759.7 433.2L758.9 436.7L758.0 440.3L757.2 443.9L756.4 447.6L755.6 451.2L754.7 454.8L753.9 458.3L753.1 461.8L752.3 465.3L751.5 468.7L750.8 472.1L750.0 475.3L749.2 478.8L748.5 481.9L747.8 484.9L746.9 489.1L746.0 492.6L745.2 496.1L743.7 502.5L742.5 507.3L741.5 511.2L740.4 515.3L739.6 518.4L738.6 521.6L737.4 525.4L736.5 528.5L735.5 531.6L734.6 534.7L733.7 537.8L732.7 540.9L731.7 544.0L730.8 547.1L729.8 550.2L728.9 553.2L727.9 556.1L727.0 559.0L726.1 562.0L725.1 564.9L724.1 567.9L723.2 570.9L722.2 573.8L721.3 576.6L719.9 580.8L718.5 584.7L716.9 588.9L715.7 592.1L714.6 595.2L713.5 598.1L712.3 600.9L711.2 603.6L710.0 606.5L708.8 609.5L707.4 612.6L705.7 616.5L703.9 620.6L702.7 623.4L701.4 626.2L700.1 629.1L698.8 631.9L697.5 634.6L695.6 638.6L694.3 641.4L692.9 644.3L691.6 647.1L690.3 649.8L688.3 653.8L686.9 656.5L685.5 659.3L684.0 662.1L682.5 665.0L680.4 668.9L678.9 671.5L677.4 674.3L675.8 677.1L674.2 680.0L672.6 682.8L671.0 685.5L668.8 689.1L666.7 692.5L664.8 695.6L662.8 698.4L661.0 701.0L658.5 704.4L656.0 707.8L653.4 711.4L651.6 713.8L649.1 717.4L646.5 720.9L643.9 724.6L642.0 727.3L640.1 730.0L637.7 733.6L636.0 736.3L634.2 739.1L632.4 742.1L630.6 744.9L628.8 747.6L626.3 750.9L623.9 753.5L620.7 756.2L617.4 758.4L614.6 759.9L611.2 762.0L607.9 764.5L605.0 767.2L602.8 769.6L600.1 772.5L598.0 774.8L595.7 777.3L593.4 779.9L591.2 782.3L589.1 784.6L587.1 786.9L585.1 789.1L583.0 791.4L581.0 793.6L577.9 796.9L575.8 799.2L573.5 801.5L571.3 803.7L569.1 805.9L566.9 808.1L564.6 810.4L562.5 812.7L559.4 816.0L557.4 818.2L555.3 820.5L553.3 822.8L551.2 825.1L549.2 827.3L547.1 829.6L545.0 831.9L543.0 834.1L540.9 836.4L537.9 839.6L535.7 841.9L533.4 844.2L531.1 846.6L528.9 848.8L526.7 851.0L524.6 853.2L522.4 855.4L520.1 857.7L517.9 859.9L514.7 862.9L511.4 865.5L508.6 867.3L505.8 868.8L503.0 870.4L500.1 872.1L497.6 873.9L494.3 876.7L492.0 878.9L489.7 881.3L487.4 883.7L485.1 886.0L482.9 888.2L480.7 890.4L478.5 892.6L476.3 894.9L474.0 897.2L471.8 899.5L468.7 902.8L466.7 905.0L464.6 907.3L462.6 909.6L460.5 911.8L457.4 915.2L455.1 917.5L452.9 919.8L450.6 922.0L448.4 924.2L446.2 926.3L443.9 928.4L441.5 930.7L439.1 932.9L436.6 935.0L434.2 937.3L431.8 939.6L428.6 942.6L425.6 945.7L423.4 947.9L420.9 950.3L418.2 952.9L415.2 955.6L411.9 958.5L409.5 960.6L407.0 962.7L404.5 964.9L402.0 967.0L399.6 969.1L397.2 971.2L394.9 973.2L392.5 975.3L390.2 977.3L387.8 979.4L385.4 981.5L383.1 983.5L380.7 985.5L378.4 987.5L376.0 989.5L373.7 991.5L371.3 993.5L368.9 995.4L366.5 997.3L363.0 1000.0L359.7 1002.4L355.8 1005.1L352.7 1007.1L349.4 1009.0L346.5 1010.7L343.8 1012.2L340.6 1014.0L339.0 1014.9L339.0 1014.9L339.9 1012.0L341.1 1007.8L342.2 1004.5L343.7 1000.3L345.3 996.3L346.8 992.9L348.4 989.4L350.4 985.5L351.8 982.6L353.4 979.6L355.0 976.4L356.8 973.1L358.5 969.9L360.5 966.3L362.6 962.5L364.2 959.6L365.9 956.7L367.6 953.7L369.3 950.7L371.0 947.8L372.7 945.0L374.2 942.3L376.3 938.8L378.3 935.7L380.6 932.2L382.7 929.0L384.5 926.4L386.8 923.2L389.0 920.2L391.5 916.9L393.5 914.3L395.5 911.7L397.5 909.1L399.4 906.6L401.3 904.2L403.2 901.8L405.1 899.4L407.1 896.9L409.0 894.5L410.9 892.1L412.8 889.7L415.0 887.3L417.3 884.7L419.6 882.4L422.7 879.5L425.0 877.5L427.5 875.4L430.0 873.2L432.5 871.1L434.8 868.9L437.0 866.8L439.1 864.6L441.2 862.2L443.2 859.8L445.1 857.4L446.9 855.1L448.7 852.6L450.7 850.1L452.7 847.6L455.6 844.1L457.7 841.6L459.9 839.1L462.1 836.6L464.2 834.1L466.3 831.8L469.2 828.6L471.3 826.2L473.5 823.7L475.6 821.4L478.5 818.3L481.3 815.2L484.3 811.7L486.4 809.2L488.5 806.6L490.6 804.1L492.7 801.6L494.8 799.2L496.9 796.8L499.1 794.4L501.3 792.1L503.5 789.9L505.7 787.7L507.8 785.6L510.0 783.5L512.5 781.2L515.0 778.9L517.5 776.7L520.0 774.5L522.4 772.4L524.9 770.4L527.2 768.5L530.7 765.8L533.1 763.9L535.5 761.8L537.7 759.7L540.8 756.5L542.9 754.1L545.1 751.8L547.1 749.5L550.2 746.3L552.6 743.9L555.1 741.5L557.5 739.3L559.9 737.2L562.4 735.1L564.8 733.1L567.2 731.1L569.6 729.2L572.0 727.3L574.4 725.3L576.8 723.3L579.1 721.3L582.4 718.3L584.8 716.2L587.4 713.9L590.4 711.4L593.5 708.8L595.9 706.9L598.6 704.9L601.4 702.8L604.1 700.8L606.5 699.0L609.8 696.7L612.7 695.0L615.7 693.2L619.1 691.3L622.4 689.4L625.2 687.5L628.0 685.5L630.8 683.6L633.6 681.9L636.5 680.5L639.5 679.2L642.4 677.9L645.1 676.5L648.1 674.6L651.1 672.6L653.9 670.8L656.6 669.4L660.9 667.9L663.9 666.9L666.7 665.8L669.5 664.5L672.3 663.1L675.0 661.7L677.8 660.5L680.7 659.4L683.6 658.4L686.8 657.4L690.8 656.2L695.2 655.0L698.5 654.0L701.6 653.2L705.9 652.2L708.9 651.5L712.2 650.8L715.7 650.1L719.1 649.5L723.4 648.9L726.4 648.5L729.5 648.1L732.6 647.7L735.7 647.3L738.7 647.0L741.8 646.6L744.9 646.3L747.9 646.0L752.4 645.6L755.4 645.3L758.5 645.0L761.5 644.6L764.6 644.2L767.8 643.8L770.9 643.4L774.0 642.9L777.0 642.4L780.0 641.9L783.2 641.2L786.4 640.5L789.6 639.8L792.6 639.0L795.5 638.2L799.9 636.9L802.8 635.9L806.9 634.3L810.9 632.8L813.8 631.8L816.7 630.9L819.6 629.9L823.7 628.3L826.6 626.8L829.3 625.0L831.9 623.3L834.6 621.9L837.7 620.7L840.8 619.9L843.9 618.9L846.9 617.6L849.6 616.0L852.4 614.3L855.1 612.6L858.1 611.2L861.2 609.8L864.3 608.6L867.4 607.4L870.5 606.0L873.7 604.7L876.9 603.5L880.0 602.5L883.1 601.6L886.1 600.7L889.0 599.8L892.2 598.5L895.3 597.1L898.5 595.9L901.4 595.0L904.4 594.2L907.5 593.5L910.7 592.7L913.9 591.9L917.2 591.1L920.3 590.4L923.4 589.9L926.3 589.6L929.3 589.3L932.7 588.8L936.9 588.0L940.0 587.3L941.1 587.0L941.1 587.0L945.3 588.0L949.2 589.5L952.4 591.2L955.6 593.1L958.8 595.4L961.2 597.3L962.0 597.9L962.0 597.9L963.0 601.2L963.8 604.2L964.9 607.8L966.1 611.8L967.2 615.4L968.2 618.3L969.5 622.0L970.8 625.7L971.8 628.9L972.9 633.0L973.7 636.8L974.5 640.9L975.0 644.1L975.5 647.6L976.1 651.0L976.7 654.5L977.3 657.8L977.9 660.9L978.8 665.3L979.7 668.6L980.6 671.9L981.6 675.4L982.6 678.7L983.5 681.7L984.8 685.6L985.9 688.8L987.2 692.4L988.8 696.0L990.2 698.9L992.3 702.6L994.0 705.4L995.9 708.5L997.7 711.3L1000.2 714.8L1002.4 717.7L1004.3 720.0L1007.0 722.9L1009.3 725.1L1011.9 727.4L1014.8 729.7L1017.4 731.5L1021.1 733.7L1023.7 735.2L1026.6 736.7L1029.4 738.1L1032.4 739.5L1035.5 740.8L1038.6 742.1L1041.6 743.3L1044.5 744.4L1047.5 745.5L1050.5 746.5L1053.4 747.5L1056.4 748.5L1059.3 749.4L1062.3 750.2L1065.2 751.0L1068.2 751.7L1071.4 752.3L1074.6 752.9L1078.8 753.5L1082.0 754.0L1085.0 754.3L1088.1 754.5L1092.5 754.6L1095.6 754.6L1098.8 754.6L1101.9 754.6L1104.9 754.6L1108.0 754.6L1111.0 754.4L1114.0 754.1L1117.1 753.7L1120.1 753.3L1123.1 752.9L1126.2 752.5L1129.2 752.0L1132.3 751.4L1135.4 750.7L1138.5 750.1L1141.6 749.6L1144.6 749.2L1149.0 748.8L1152.0 748.4L1155.2 747.7L1158.5 746.7L1161.7 745.8L1165.4 744.8L1169.0 743.8L1173.4 742.7L1177.0 741.5L1181.4 740.1L1184.8 738.9L1188.3 737.6L1191.8 736.3L1194.9 735.3L1198.9 734.0L1202.3 733.0L1205.7 732.1L1209.3 731.1L1212.9 730.0L1216.0 728.9L1219.3 727.5L1222.7 726.1L1225.6 724.9L1229.7 723.5L1233.3 722.5L1237.2 721.4L1241.2 720.2L1244.3 719.2L1247.9 718.0L1251.5 716.8L1254.8 715.6L1258.8 714.0L1262.3 712.5L1265.6 711.0L1269.3 709.3L1272.1 708.1L1275.0 706.9L1278.0 705.5L1280.6 704.0L1283.4 702.3L1286.1 700.7L1288.9 699.1L1291.9 697.7L1294.9 696.5L1298.0 695.3L1301.3 694.0L1304.2 692.9L1307.7 691.5L1311.7 689.6L1314.7 687.8L1318.5 685.2L1321.6 682.9L1324.7 680.6L1327.7 678.3L1330.3 676.4L1333.7 674.2L1337.3 671.9L1340.7 669.9L1343.9 668.1L1346.6 666.4L1349.4 664.5L1352.2 662.6L1354.9 660.7L1357.6 658.9L1360.3 657.0L1362.8 655.2L1365.3 653.4L1368.1 651.3L1370.9 649.2L1373.6 647.2L1376.4 645.3L1379.8 643.3L1382.8 641.7L1384.9 640.7"/>
</g>
<rect x="197.0" y="45.5" width="1407.7" height="1037.3" fill="none" stroke="#000" stroke-width="4.0" stroke-linejoin="round"/>
<path d="M267.5 1082.8V1062.0M337.8 1082.8V1072.3M408.2 1082.8V1062.0M478.6 1082.8V1072.3M549.0 1082.8V1062.0M619.4 1082.8V1072.3M689.8 1082.8V1062.0M760.2 1082.8V1072.3M830.6 1082.8V1062.0M901.0 1082.8V1072.3M971.4 1082.8V1062.0M1041.8 1082.8V1072.3M1112.1 1082.8V1062.0M1182.5 1082.8V1072.3M1252.9 1082.8V1062.0M1323.3 1082.8V1072.3M1393.7 1082.8V1062.0M1464.1 1082.8V1072.3M1534.5 1082.8V1062.0M197.0 1046.0H217.8M197.0 971.8H207.5M197.0 897.7H217.8M197.0 823.6H207.5M197.0 749.5H217.8M197.0 675.3H207.5M197.0 601.2H217.8M197.0 527.1H207.5M197.0 453.0H217.8M197.0 378.8H207.5M197.0 304.7H217.8M197.0 230.6H207.5M197.0 156.5H217.8M197.0 82.3H207.5" fill="none" stroke="#000" stroke-width="4.0" stroke-linecap="round"/>
<path d="M267.5 45.5h0M337.8 45.5h0M408.2 45.5h0M478.6 45.5h0M549.0 45.5h0M619.4 45.5h0M689.8 45.5h0M760.2 45.5h0M830.6 45.5h0M901.0 45.5h0M971.4 45.5h0M1041.8 45.5h0M1112.1 45.5h0M1182.5 45.5h0M1252.9 45.5h0M1323.3 45.5h0M1393.7 45.5h0M1464.1 45.5h0M1534.5 45.5h0M1604.7 1046.0h0M1604.7 971.8h0M1604.7 897.7h0M1604.7 823.6h0M1604.7 749.5h0M1604.7 675.3h0M1604.7 601.2h0M1604.7 527.1h0M1604.7 453.0h0M1604.7 378.8h0M1604.7 304.7h0M1604.7 230.6h0M1604.7 156.5h0M1604.7 82.3h0" fill="none" stroke="#000" stroke-width="4.7" stroke-linecap="round"/>
<g font-family='"Liberation Sans", Arial, Helvetica, sans-serif' font-size="64" fill="#000">
<g transform="translate(267.5 1157.5) scale(1 1.045)"><text text-anchor="middle">-0,6</text></g>
<g transform="translate(408.2 1157.5) scale(1 1.045)"><text text-anchor="middle">-0,4</text></g>
<g transform="translate(549.0 1157.5) scale(1 1.045)"><text text-anchor="middle">-0,2</text></g>
<g transform="translate(689.8 1157.5) scale(1 1.045)"><text text-anchor="middle">0,0</text></g>
<g transform="translate(830.6 1157.5) scale(1 1.045)"><text text-anchor="middle">0,2</text></g>
<g transform="translate(971.4 1157.5) scale(1 1.045)"><text text-anchor="middle">0,4</text></g>
<g transform="translate(1112.1 1157.5) scale(1 1.045)"><text text-anchor="middle">0,6</text></g>
<g transform="translate(1252.9 1157.5) scale(1 1.045)"><text text-anchor="middle">0,8</text></g>
<g transform="translate(1393.7 1157.5) scale(1 1.045)"><text text-anchor="middle">1,0</text><path fill="#fff" d="M-41.91 -5.58H-28.53V1.20H-41.91ZM-22.57 -5.58H-9.40V1.20H-22.57Z"/></g>
<g transform="translate(1534.5 1157.5) scale(1 1.045)"><text text-anchor="middle">1,2</text><path fill="#fff" d="M-41.91 -5.58H-28.53V1.20H-41.91ZM-22.57 -5.58H-9.40V1.20H-22.57Z"/></g>
<g transform="translate(173.7 1065.2) scale(1 1.045)"><text text-anchor="end">-1</text><path fill="#fff" d="M-33.04 -5.58H-19.65V1.20H-33.04ZM-13.70 -5.58H-0.52V1.20H-13.70Z"/></g>
<g transform="translate(173.7 916.9) scale(1 1.045)"><text text-anchor="end">0</text></g>
<g transform="translate(173.7 768.7) scale(1 1.045)"><text text-anchor="end">1</text><path fill="#fff" d="M-33.04 -5.58H-19.65V1.20H-33.04ZM-13.70 -5.58H-0.52V1.20H-13.70Z"/></g>
<g transform="translate(173.7 620.4) scale(1 1.045)"><text text-anchor="end">2</text></g>
<g transform="translate(173.7 472.2) scale(1 1.045)"><text text-anchor="end">3</text></g>
<g transform="translate(173.7 323.9) scale(1 1.045)"><text text-anchor="end">4</text></g>
<g transform="translate(173.7 175.7) scale(1 1.045)"><text text-anchor="end">5</text></g>
</g>
<g font-family='"Liberation Sans", Arial, Helvetica, sans-serif' fill="#000">
<g transform="translate(903.2 1279.6) scale(1 1.015)"><text font-size="83.3" text-anchor="middle">Potential vs SCE (V)</text></g>
</g>
<defs><clipPath id="jc"><path d="M-20 20V-62.9H37.30V-100H90V20Z"/></clipPath></defs>
<g transform="translate(104.5 811) rotate(-90)" font-family='"Liberation Sans", Arial, Helvetica, sans-serif' fill="#000">
<g transform="translate(-2.2 1.0) skewX(-19.0) scale(0.85 1)"><text x="0" y="0" font-size="114.4" clip-path="url(#jc)" stroke="#000" stroke-width="1.5" stroke-linejoin="round">J</text></g>
<g transform="translate(70.5 0.0) scale(1 1.015)"><text font-size="83">(</text></g>
<g transform="translate(100.9 0.0) scale(1 1.015)"><text font-size="83">mA</text></g>
<g transform="translate(252.7 0.0) scale(1 1.015)"><text font-size="83">cm</text></g>
<g transform="translate(360.6 -45.0) scale(1 1.015)"><text font-size="50">-2</text></g>
<g transform="translate(408.5 0.0) scale(1 1.015)"><text font-size="83">)</text></g>
</g>
<g font-family='"Liberation Sans", Arial, Helvetica, sans-serif' fill="#000">
<g transform="translate(257.0 132.6) scale(1 1.015)"><text font-size="65.3">Glucose 30 mM</text></g>
</g>
<rect x="943.3" y="84" width="569.2" height="268.7" fill="#fff" stroke="#000" stroke-width="1.6"/>
<path d="M949.5 125.0H1062.5" stroke="#000000" stroke-width="3.6" stroke-linecap="round" fill="none"/>
<path d="M949.5 199.2H1062.5" stroke="#ff0000" stroke-width="3.6" stroke-linecap="round" fill="none"/>
<path d="M949.5 261.6H1062.5" stroke="#0000ff" stroke-width="3.6" stroke-linecap="round" fill="none"/>
<path d="M949.5 324.1H1062.5" stroke="#00ff00" stroke-width="3.6" stroke-linecap="round" fill="none"/>
<g font-family='"Liberation Sans", Arial, Helvetica, sans-serif' font-size="50.6" fill="#000">
<g transform="translate(1076.8 142.8) scale(1 1.015)"><text>0.5 J cm<tspan font-size="31" dy="-25.2">-2</tspan><tspan dy="25.2">, 1 cycle</tspan></text><path fill="#fff" d="M92.97 -35.81H101.07V-30.16H92.97Z"/><path fill="#fff" d="M248.85 -4.58H259.40V1.20H248.85ZM264.18 -4.58H274.56V1.20H264.18Z"/></g>
<g transform="translate(1076.8 216.5) scale(1 1.015)"><text>0.5 J cm<tspan font-size="31" dy="-25.2">-2</tspan><tspan dy="25.2">, 50 cycle</tspan></text><path fill="#fff" d="M92.97 -35.81H101.07V-30.16H92.97Z"/></g>
<g transform="translate(1076.8 279.0) scale(1 1.015)"><text>400 °C, 1 cycle</text><path fill="#fff" d="M185.35 -4.58H195.90V1.20H185.35ZM200.67 -4.58H211.05V1.20H200.67Z"/></g>
<g transform="translate(1076.8 341.1) scale(1 1.015)"><text>400 °C, 50 cycle</text></g>
</g>
</svg>
</body></html>
